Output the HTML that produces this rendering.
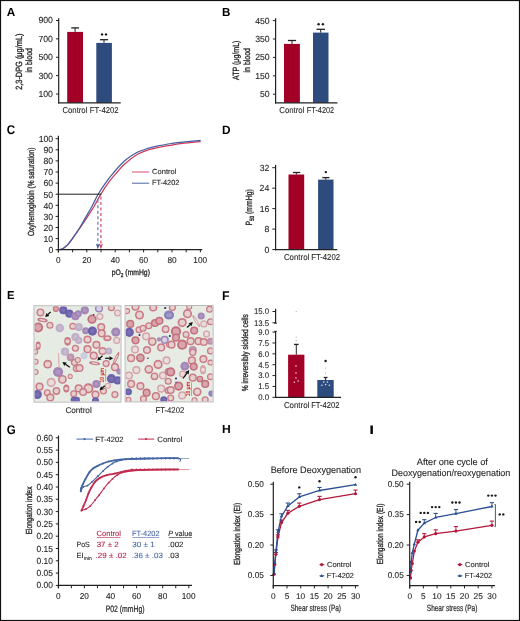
<!DOCTYPE html>
<html><head><meta charset="utf-8"><style>
html,body{margin:0;padding:0;background:#fff;}
body{width:520px;height:621px;overflow:hidden;}
svg{display:block;will-change:transform;text-rendering:geometricPrecision;font-family:"Liberation Sans", sans-serif;}
</style></head><body>
<svg width="520" height="621" viewBox="0 0 520 621">
<rect x="0" y="0" width="520" height="621" fill="#fff"/>
<text x="6.72" y="15.90" font-size="11.77" font-weight="bold" fill="#000" textLength="8.49" lengthAdjust="spacingAndGlyphs">A</text>
<line x1="56.00" y1="20.50" x2="58.70" y2="20.50" stroke="#222" stroke-width="1.0"/>
<text x="38.40" y="23.40" font-size="8.8" fill="#262626" stroke="#262626" stroke-width="0.1" textLength="14.54" lengthAdjust="spacingAndGlyphs">900</text>
<line x1="56.00" y1="38.88" x2="58.70" y2="38.88" stroke="#222" stroke-width="1.0"/>
<text x="38.40" y="41.77" font-size="8.8" fill="#262626" stroke="#262626" stroke-width="0.1" textLength="14.54" lengthAdjust="spacingAndGlyphs">700</text>
<line x1="56.00" y1="57.25" x2="58.70" y2="57.25" stroke="#222" stroke-width="1.0"/>
<text x="38.40" y="60.15" font-size="8.8" fill="#262626" stroke="#262626" stroke-width="0.1" textLength="14.54" lengthAdjust="spacingAndGlyphs">500</text>
<line x1="56.00" y1="75.62" x2="58.70" y2="75.62" stroke="#222" stroke-width="1.0"/>
<text x="38.40" y="78.53" font-size="8.8" fill="#262626" stroke="#262626" stroke-width="0.1" textLength="14.54" lengthAdjust="spacingAndGlyphs">300</text>
<line x1="56.00" y1="94.00" x2="58.70" y2="94.00" stroke="#222" stroke-width="1.0"/>
<text x="38.40" y="96.90" font-size="8.8" fill="#262626" stroke="#262626" stroke-width="0.1" textLength="14.54" lengthAdjust="spacingAndGlyphs">100</text>
<rect x="67.20" y="31.90" width="15.80" height="70.90" fill="#a30028"/>
<line x1="75.10" y1="31.90" x2="75.10" y2="27.90" stroke="#222" stroke-width="1.0"/>
<line x1="71.25" y1="27.90" x2="79.00" y2="27.90" stroke="#222" stroke-width="1.3"/>
<rect x="96.30" y="42.90" width="15.60" height="59.90" fill="#2e4b7e"/>
<line x1="104.00" y1="42.90" x2="104.00" y2="39.70" stroke="#222" stroke-width="1.0"/>
<line x1="100.00" y1="39.70" x2="108.10" y2="39.70" stroke="#222" stroke-width="1.3"/>
<circle cx="102.10" cy="34.40" r="1.2" fill="#1a1a1a"/>
<circle cx="106.00" cy="34.40" r="1.2" fill="#1a1a1a"/>
<line x1="58.70" y1="18.30" x2="58.70" y2="103.40" stroke="#222" stroke-width="1.2"/>
<line x1="58.10" y1="102.80" x2="120.70" y2="102.80" stroke="#222" stroke-width="1.2"/>
<text x="62.41" y="113.10" font-size="8.6" fill="#262626" stroke="#262626" stroke-width="0.1" textLength="25.00" lengthAdjust="spacingAndGlyphs">Control</text>
<text x="89.87" y="113.10" font-size="8.6" fill="#262626" stroke="#262626" stroke-width="0.1" textLength="28.62" lengthAdjust="spacingAndGlyphs">FT-4202</text>
<text transform="translate(21.50,89.50) rotate(-90)" x="-0.37" y="0" font-size="9.0" fill="#262626" stroke="#262626" stroke-width="0.32" textLength="56.33" lengthAdjust="spacingAndGlyphs">2,3-DPG (μg/mL)</text>
<text transform="translate(32.30,72.00) rotate(-90)" x="-0.46" y="0" font-size="9.0" fill="#262626" stroke="#262626" stroke-width="0.32" textLength="24.41" lengthAdjust="spacingAndGlyphs">in blood</text>
<text x="222.03" y="15.80" font-size="11.63" font-weight="bold" fill="#000" textLength="8.39" lengthAdjust="spacingAndGlyphs">B</text>
<line x1="272.90" y1="20.60" x2="275.60" y2="20.60" stroke="#222" stroke-width="1.0"/>
<text x="255.20" y="23.50" font-size="8.8" fill="#262626" stroke="#262626" stroke-width="0.1" textLength="14.54" lengthAdjust="spacingAndGlyphs">450</text>
<line x1="272.90" y1="39.01" x2="275.60" y2="39.01" stroke="#222" stroke-width="1.0"/>
<text x="255.20" y="41.91" font-size="8.8" fill="#262626" stroke="#262626" stroke-width="0.1" textLength="14.54" lengthAdjust="spacingAndGlyphs">350</text>
<line x1="272.90" y1="57.42" x2="275.60" y2="57.42" stroke="#222" stroke-width="1.0"/>
<text x="255.20" y="60.32" font-size="8.8" fill="#262626" stroke="#262626" stroke-width="0.1" textLength="14.54" lengthAdjust="spacingAndGlyphs">250</text>
<line x1="272.90" y1="75.83" x2="275.60" y2="75.83" stroke="#222" stroke-width="1.0"/>
<text x="255.20" y="78.73" font-size="8.8" fill="#262626" stroke="#262626" stroke-width="0.1" textLength="14.54" lengthAdjust="spacingAndGlyphs">150</text>
<line x1="272.90" y1="94.24" x2="275.60" y2="94.24" stroke="#222" stroke-width="1.0"/>
<text x="260.04" y="97.14" font-size="8.8" fill="#262626" stroke="#262626" stroke-width="0.1" textLength="9.69" lengthAdjust="spacingAndGlyphs">50</text>
<rect x="284.00" y="43.90" width="15.90" height="58.90" fill="#a30028"/>
<line x1="292.00" y1="43.90" x2="292.00" y2="40.50" stroke="#222" stroke-width="1.0"/>
<line x1="287.90" y1="40.50" x2="296.10" y2="40.50" stroke="#222" stroke-width="1.3"/>
<rect x="313.00" y="32.60" width="15.50" height="70.20" fill="#2e4b7e"/>
<line x1="320.70" y1="32.60" x2="320.70" y2="29.30" stroke="#222" stroke-width="1.0"/>
<line x1="316.50" y1="29.30" x2="325.00" y2="29.30" stroke="#222" stroke-width="1.3"/>
<circle cx="318.60" cy="24.30" r="1.2" fill="#1a1a1a"/>
<circle cx="322.90" cy="24.30" r="1.2" fill="#1a1a1a"/>
<line x1="275.60" y1="18.30" x2="275.60" y2="103.40" stroke="#222" stroke-width="1.2"/>
<line x1="275.00" y1="102.80" x2="337.50" y2="102.80" stroke="#222" stroke-width="1.2"/>
<text x="279.31" y="112.90" font-size="8.6" fill="#262626" stroke="#262626" stroke-width="0.1" textLength="25.11" lengthAdjust="spacingAndGlyphs">Control</text>
<text x="306.80" y="112.90" font-size="8.6" fill="#262626" stroke="#262626" stroke-width="0.1" textLength="27.37" lengthAdjust="spacingAndGlyphs">FT-4202</text>
<text transform="translate(239.20,80.00) rotate(-90)" x="-0.01" y="0" font-size="9.0" fill="#262626" stroke="#262626" stroke-width="0.32" textLength="39.45" lengthAdjust="spacingAndGlyphs">ATP (μg/mL)</text>
<text transform="translate(249.80,72.00) rotate(-90)" x="-0.46" y="0" font-size="9.0" fill="#262626" stroke="#262626" stroke-width="0.32" textLength="24.41" lengthAdjust="spacingAndGlyphs">in blood</text>
<text x="6.82" y="134.17" font-size="12.71" font-weight="bold" fill="#000" textLength="8.39" lengthAdjust="spacingAndGlyphs">C</text>
<line x1="55.60" y1="249.70" x2="58.40" y2="249.70" stroke="#222" stroke-width="1.0"/>
<text x="48.39" y="253.00" font-size="8.8" fill="#262626" stroke="#262626" stroke-width="0.1" textLength="4.85" lengthAdjust="spacingAndGlyphs">0</text>
<line x1="55.60" y1="238.60" x2="58.40" y2="238.60" stroke="#222" stroke-width="1.0"/>
<text x="43.54" y="241.90" font-size="8.8" fill="#262626" stroke="#262626" stroke-width="0.1" textLength="9.69" lengthAdjust="spacingAndGlyphs">10</text>
<line x1="55.60" y1="227.50" x2="58.40" y2="227.50" stroke="#222" stroke-width="1.0"/>
<text x="43.54" y="230.80" font-size="8.8" fill="#262626" stroke="#262626" stroke-width="0.1" textLength="9.69" lengthAdjust="spacingAndGlyphs">20</text>
<line x1="55.60" y1="216.40" x2="58.40" y2="216.40" stroke="#222" stroke-width="1.0"/>
<text x="43.54" y="219.70" font-size="8.8" fill="#262626" stroke="#262626" stroke-width="0.1" textLength="9.69" lengthAdjust="spacingAndGlyphs">30</text>
<line x1="55.60" y1="205.30" x2="58.40" y2="205.30" stroke="#222" stroke-width="1.0"/>
<text x="43.54" y="208.60" font-size="8.8" fill="#262626" stroke="#262626" stroke-width="0.1" textLength="9.69" lengthAdjust="spacingAndGlyphs">40</text>
<line x1="55.60" y1="194.20" x2="58.40" y2="194.20" stroke="#222" stroke-width="1.0"/>
<text x="43.54" y="197.50" font-size="8.8" fill="#262626" stroke="#262626" stroke-width="0.1" textLength="9.69" lengthAdjust="spacingAndGlyphs">50</text>
<line x1="55.60" y1="183.10" x2="58.40" y2="183.10" stroke="#222" stroke-width="1.0"/>
<text x="43.54" y="186.40" font-size="8.8" fill="#262626" stroke="#262626" stroke-width="0.1" textLength="9.69" lengthAdjust="spacingAndGlyphs">60</text>
<line x1="55.60" y1="172.00" x2="58.40" y2="172.00" stroke="#222" stroke-width="1.0"/>
<text x="43.54" y="175.30" font-size="8.8" fill="#262626" stroke="#262626" stroke-width="0.1" textLength="9.69" lengthAdjust="spacingAndGlyphs">70</text>
<line x1="55.60" y1="160.90" x2="58.40" y2="160.90" stroke="#222" stroke-width="1.0"/>
<text x="43.54" y="164.20" font-size="8.8" fill="#262626" stroke="#262626" stroke-width="0.1" textLength="9.69" lengthAdjust="spacingAndGlyphs">80</text>
<line x1="55.60" y1="149.80" x2="58.40" y2="149.80" stroke="#222" stroke-width="1.0"/>
<text x="43.54" y="153.10" font-size="8.8" fill="#262626" stroke="#262626" stroke-width="0.1" textLength="9.69" lengthAdjust="spacingAndGlyphs">90</text>
<line x1="55.60" y1="138.70" x2="58.40" y2="138.70" stroke="#222" stroke-width="1.0"/>
<text x="38.70" y="142.00" font-size="8.8" fill="#262626" stroke="#262626" stroke-width="0.1" textLength="14.54" lengthAdjust="spacingAndGlyphs">100</text>
<line x1="58.40" y1="249.70" x2="58.40" y2="252.30" stroke="#222" stroke-width="1.0"/>
<line x1="72.60" y1="249.70" x2="72.60" y2="252.30" stroke="#222" stroke-width="1.0"/>
<line x1="86.80" y1="249.70" x2="86.80" y2="252.30" stroke="#222" stroke-width="1.0"/>
<line x1="101.00" y1="249.70" x2="101.00" y2="252.30" stroke="#222" stroke-width="1.0"/>
<line x1="115.20" y1="249.70" x2="115.20" y2="252.30" stroke="#222" stroke-width="1.0"/>
<line x1="129.40" y1="249.70" x2="129.40" y2="252.30" stroke="#222" stroke-width="1.0"/>
<line x1="143.60" y1="249.70" x2="143.60" y2="252.30" stroke="#222" stroke-width="1.0"/>
<line x1="157.80" y1="249.70" x2="157.80" y2="252.30" stroke="#222" stroke-width="1.0"/>
<line x1="172.00" y1="249.70" x2="172.00" y2="252.30" stroke="#222" stroke-width="1.0"/>
<line x1="186.20" y1="249.70" x2="186.20" y2="252.30" stroke="#222" stroke-width="1.0"/>
<line x1="200.40" y1="249.70" x2="200.40" y2="252.30" stroke="#222" stroke-width="1.0"/>
<text x="56.10" y="262.90" font-size="8.6" fill="#262626" stroke="#262626" stroke-width="0.1" textLength="4.59" lengthAdjust="spacingAndGlyphs">0</text>
<text x="82.16" y="262.90" font-size="8.6" fill="#262626" stroke="#262626" stroke-width="0.1" textLength="9.18" lengthAdjust="spacingAndGlyphs">20</text>
<text x="110.68" y="262.90" font-size="8.6" fill="#262626" stroke="#262626" stroke-width="0.1" textLength="9.18" lengthAdjust="spacingAndGlyphs">40</text>
<text x="138.96" y="262.90" font-size="8.6" fill="#262626" stroke="#262626" stroke-width="0.1" textLength="9.18" lengthAdjust="spacingAndGlyphs">60</text>
<text x="167.39" y="262.90" font-size="8.6" fill="#262626" stroke="#262626" stroke-width="0.1" textLength="9.18" lengthAdjust="spacingAndGlyphs">80</text>
<text x="193.36" y="262.90" font-size="8.6" fill="#262626" stroke="#262626" stroke-width="0.1" textLength="13.77" lengthAdjust="spacingAndGlyphs">100</text>
<path d="M59.54,249.70 C60.06,249.53 61.67,249.22 62.66,248.70 C63.65,248.18 64.55,247.39 65.50,246.59 C66.45,245.80 67.24,245.19 68.34,243.93 C69.44,242.67 70.92,240.63 72.10,239.04 C73.29,237.45 74.15,236.19 75.44,234.38 C76.73,232.57 77.88,231.05 79.84,228.17 C81.81,225.28 84.81,220.77 87.23,217.07 C89.64,213.37 92.10,209.70 94.33,205.97 C96.55,202.23 98.28,198.45 100.57,194.64 C102.87,190.83 105.47,186.69 108.10,183.10 C110.73,179.51 113.57,176.29 116.34,173.11 C119.10,169.93 121.38,167.02 124.71,164.01 C128.05,160.99 132.50,157.33 136.36,155.02 C140.22,152.70 144.03,151.43 147.86,150.13 C151.69,148.84 155.34,148.10 159.36,147.25 C163.39,146.40 168.17,145.66 172.00,145.03 C175.83,144.40 177.59,144.05 182.37,143.47 C187.15,142.90 197.63,141.90 200.68,141.59" fill="none" stroke="#d03a5c" stroke-width="1.25"/>
<path d="M59.54,249.70 C60.06,249.55 61.67,249.29 62.66,248.81 C63.65,248.33 64.55,247.59 65.50,246.81 C66.45,246.04 67.24,245.44 68.34,244.15 C69.44,242.85 70.92,240.71 72.10,239.04 C73.29,237.38 74.15,236.08 75.44,234.16 C76.73,232.24 78.09,230.39 79.84,227.50 C81.59,224.61 83.87,220.47 85.95,216.84 C88.03,213.22 90.35,209.43 92.34,205.74 C94.33,202.06 95.72,198.49 97.88,194.75 C100.03,191.02 102.70,186.93 105.26,183.32 C107.82,179.71 109.97,176.87 113.21,173.11 C116.45,169.35 120.86,164.17 124.71,160.79 C128.57,157.40 132.50,154.87 136.36,152.80 C140.22,150.72 144.03,149.56 147.86,148.36 C151.69,147.15 155.34,146.40 159.36,145.58 C163.39,144.77 168.17,144.05 172.00,143.47 C175.83,142.90 177.59,142.64 182.37,142.14 C187.15,141.64 197.63,140.75 200.68,140.48" fill="none" stroke="#41609f" stroke-width="1.25"/>
<line x1="58.40" y1="194.20" x2="101.30" y2="194.20" stroke="#222" stroke-width="1.0"/>
<line x1="97.90" y1="199.80" x2="97.90" y2="246.00" stroke="#6478b0" stroke-width="1.2" stroke-dasharray="3,2.5"/>
<line x1="100.90" y1="196.60" x2="100.90" y2="246.00" stroke="#d04a6a" stroke-width="1.2" stroke-dasharray="3,2.5"/>
<path d="M95.8,243.6 L97.9,245.0 L100.0,243.6 L97.9,249.3 Z" fill="#41609f"/>
<path d="M98.8,243.6 L100.9,245.0 L103.0,243.6 L100.9,249.3 Z" fill="#d03a5c"/>
<line x1="58.40" y1="135.80" x2="58.40" y2="252.40" stroke="#222" stroke-width="1.2"/>
<line x1="57.80" y1="249.70" x2="202.30" y2="249.70" stroke="#222" stroke-width="1.2"/>
<line x1="132.00" y1="172.00" x2="149.20" y2="172.00" stroke="#d4506e" stroke-width="1.0"/>
<line x1="132.00" y1="183.20" x2="149.20" y2="183.20" stroke="#4a64a4" stroke-width="1.0"/>
<text x="152.12" y="174.10" font-size="7.4" fill="#262626" stroke="#262626" stroke-width="0.1" textLength="24.38" lengthAdjust="spacingAndGlyphs">Control</text>
<text x="151.90" y="185.30" font-size="7.4" fill="#262626" stroke="#262626" stroke-width="0.1" textLength="27.47" lengthAdjust="spacingAndGlyphs">FT-4202</text>
<text x="111.78" y="275.00" font-size="8.0" fill="#262626" stroke="#262626" stroke-width="0.3" textLength="38.13" lengthAdjust="spacingAndGlyphs">pO<tspan font-size="5.6" dy="2.2">2</tspan><tspan dy="-2.2"> (mmHg)</tspan></text>
<text transform="translate(34.20,235.80) rotate(-90)" x="-0.31" y="0" font-size="8.8" fill="#262626" stroke="#262626" stroke-width="0.32" textLength="88.52" lengthAdjust="spacingAndGlyphs">Oxyhemoglobin (% saturation)</text>
<text x="222.02" y="133.80" font-size="12.06" font-weight="bold" fill="#000" textLength="8.57" lengthAdjust="spacingAndGlyphs">D</text>
<line x1="272.30" y1="167.70" x2="275.60" y2="167.70" stroke="#222" stroke-width="1.0"/>
<text x="259.75" y="170.70" font-size="8.8" fill="#262626" stroke="#262626" stroke-width="0.1" textLength="9.69" lengthAdjust="spacingAndGlyphs">32</text>
<line x1="272.30" y1="188.17" x2="275.60" y2="188.17" stroke="#222" stroke-width="1.0"/>
<text x="259.56" y="191.17" font-size="8.8" fill="#262626" stroke="#262626" stroke-width="0.1" textLength="9.69" lengthAdjust="spacingAndGlyphs">24</text>
<line x1="272.30" y1="208.64" x2="275.60" y2="208.64" stroke="#222" stroke-width="1.0"/>
<text x="259.69" y="211.64" font-size="8.8" fill="#262626" stroke="#262626" stroke-width="0.1" textLength="9.69" lengthAdjust="spacingAndGlyphs">16</text>
<line x1="272.30" y1="229.11" x2="275.60" y2="229.11" stroke="#222" stroke-width="1.0"/>
<text x="264.53" y="232.11" font-size="8.8" fill="#262626" stroke="#262626" stroke-width="0.1" textLength="4.85" lengthAdjust="spacingAndGlyphs">8</text>
<line x1="272.30" y1="249.58" x2="275.60" y2="249.58" stroke="#222" stroke-width="1.0"/>
<text x="264.49" y="252.58" font-size="8.8" fill="#262626" stroke="#262626" stroke-width="0.1" textLength="4.85" lengthAdjust="spacingAndGlyphs">0</text>
<rect x="288.50" y="174.50" width="15.70" height="75.10" fill="#a30028"/>
<line x1="296.35" y1="174.50" x2="296.35" y2="172.50" stroke="#222" stroke-width="1.0"/>
<line x1="292.90" y1="172.50" x2="300.20" y2="172.50" stroke="#222" stroke-width="1.3"/>
<rect x="318.10" y="179.60" width="15.40" height="70.00" fill="#2e4b7e"/>
<line x1="325.80" y1="179.60" x2="325.80" y2="177.60" stroke="#222" stroke-width="1.0"/>
<line x1="322.30" y1="177.60" x2="329.40" y2="177.60" stroke="#222" stroke-width="1.3"/>
<circle cx="325.80" cy="172.10" r="1.2" fill="#1a1a1a"/>
<line x1="275.60" y1="165.10" x2="275.60" y2="250.20" stroke="#222" stroke-width="1.2"/>
<line x1="275.00" y1="249.60" x2="337.30" y2="249.60" stroke="#222" stroke-width="1.2"/>
<text x="283.91" y="259.80" font-size="8.6" fill="#262626" stroke="#262626" stroke-width="0.1" textLength="25.42" lengthAdjust="spacingAndGlyphs">Control</text>
<text x="311.16" y="259.80" font-size="8.6" fill="#262626" stroke="#262626" stroke-width="0.1" textLength="28.93" lengthAdjust="spacingAndGlyphs">FT-4202</text>
<text transform="translate(252.40,225.10) rotate(-90)" x="-0.53" y="0" font-size="9.0" fill="#262626" stroke="#262626" stroke-width="0.32" textLength="36.42" lengthAdjust="spacingAndGlyphs">P<tspan font-size="6.2" dy="1.6">50</tspan><tspan dy="-1.6"> (mmHg)</tspan></text>
<text x="7.06" y="298.90" font-size="11.48" font-weight="bold" fill="#000" textLength="7.48" lengthAdjust="spacingAndGlyphs">E</text>
<filter id="soft" x="-5%" y="-5%" width="110%" height="110%"><feGaussianBlur stdDeviation="0.55"/></filter>
<clipPath id="cl1"><rect x="34.5" y="306.3" width="86.0" height="95.30000000000001"/></clipPath>
<g clip-path="url(#cl1)"><g filter="url(#soft)">
<rect x="32.50" y="304.30" width="90.00" height="99.30" fill="#e6ece3"/>
<circle cx="40.4" cy="312.4" r="3.9779999999999998" fill="#c97a86"/>
<circle cx="40.4" cy="312.4" r="2.55" fill="#e6d0ce"/>
<ellipse cx="42.5" cy="320.1" rx="5.304" ry="2.04" fill="#c97a86" transform="rotate(10 42.5 320.1)"/>
<ellipse cx="42.5" cy="320.1" rx="3.18" ry="0.92" fill="#e6d0ce" transform="rotate(10 42.5 320.1)"/>
<circle cx="38.2" cy="327.5" r="4.896" fill="#c26e7b"/>
<circle cx="38.2" cy="327.5" r="3.13" fill="#d8a6aa"/>
<circle cx="49.9" cy="325.3" r="3.5700000000000003" fill="#c97a86"/>
<circle cx="49.9" cy="325.3" r="2.28" fill="#e6d0ce"/>
<circle cx="59.8" cy="328" r="4.284000000000001" fill="#bfaec8"/>
<circle cx="59.8" cy="328" r="2.14" fill="#cec2d4" opacity="0.6"/>
<circle cx="55.9" cy="308.9" r="3.06" fill="#c26e7b"/>
<circle cx="55.9" cy="308.9" r="1.96" fill="#d8a6aa"/>
<circle cx="63.3" cy="310.2" r="4.08" fill="#6c62ac"/>
<circle cx="63.3" cy="310.2" r="2.04" fill="#8078b8" opacity="0.6"/>
<circle cx="69.3" cy="313.7" r="4.08" fill="#6c62ac"/>
<circle cx="69.3" cy="313.7" r="2.04" fill="#8078b8" opacity="0.6"/>
<circle cx="75.4" cy="316.2" r="4.08" fill="#a286b6"/>
<circle cx="75.4" cy="316.2" r="2.04" fill="#b8a0c6" opacity="0.6"/>
<circle cx="72.8" cy="326.2" r="3.5700000000000003" fill="#c97a86"/>
<circle cx="72.8" cy="326.2" r="2.28" fill="#e6d0ce"/>
<circle cx="75.4" cy="337" r="4.08" fill="#bfaec8"/>
<circle cx="75.4" cy="337" r="2.04" fill="#cec2d4" opacity="0.6"/>
<ellipse cx="67.6" cy="341.3" rx="3.3659999999999997" ry="4.386" fill="#c97a86" transform="rotate(0 67.6 341.3)"/>
<ellipse cx="67.6" cy="341.3" rx="2.02" ry="1.97" fill="#e6d0ce" transform="rotate(0 67.6 341.3)"/>
<ellipse cx="38.2" cy="345.7" rx="2.55" ry="4.08" fill="#c97a86" transform="rotate(0 38.2 345.7)"/>
<ellipse cx="38.2" cy="345.7" rx="1.53" ry="1.84" fill="#e6d0ce" transform="rotate(0 38.2 345.7)"/>
<circle cx="75.4" cy="348.3" r="3.5700000000000003" fill="#c97a86"/>
<circle cx="75.4" cy="348.3" r="2.28" fill="#e6d0ce"/>
<circle cx="65" cy="351.7" r="4.08" fill="#bfaec8"/>
<circle cx="65" cy="351.7" r="2.04" fill="#cec2d4" opacity="0.6"/>
<circle cx="35.2" cy="351.7" r="3.06" fill="#c97a86"/>
<circle cx="35.2" cy="351.7" r="1.96" fill="#e6d0ce"/>
<circle cx="84.8" cy="310.3" r="4.08" fill="#a286b6"/>
<circle cx="84.8" cy="310.3" r="2.04" fill="#b8a0c6" opacity="0.6"/>
<circle cx="99" cy="308.5" r="4.08" fill="#9a86ba"/>
<circle cx="99" cy="308.5" r="2.61" fill="#d8d0e0"/>
<circle cx="99.9" cy="316.5" r="3.5700000000000003" fill="#d4a2a9"/>
<circle cx="99.9" cy="316.5" r="2.28" fill="#eadcda"/>
<circle cx="92" cy="319.2" r="4.59" fill="#c26e7b"/>
<circle cx="92" cy="319.2" r="2.94" fill="#d8a6aa"/>
<circle cx="111.4" cy="307.7" r="3.5700000000000003" fill="#c97a86"/>
<circle cx="111.4" cy="307.7" r="2.28" fill="#e6d0ce"/>
<circle cx="117.6" cy="313" r="3.5700000000000003" fill="#d4a2a9"/>
<circle cx="117.6" cy="313" r="2.28" fill="#eadcda"/>
<circle cx="78.2" cy="313.8" r="3.5700000000000003" fill="#a286b6"/>
<circle cx="78.2" cy="313.8" r="1.79" fill="#b8a0c6" opacity="0.6"/>
<circle cx="78.7" cy="327.1" r="4.08" fill="#bfaec8"/>
<circle cx="78.7" cy="327.1" r="2.04" fill="#cec2d4" opacity="0.6"/>
<circle cx="85.7" cy="330.7" r="3.5700000000000003" fill="#a286b6"/>
<circle cx="85.7" cy="330.7" r="1.79" fill="#b8a0c6" opacity="0.6"/>
<circle cx="92.4" cy="331.1" r="4.59" fill="#6c62ac"/>
<circle cx="92.4" cy="331.1" r="2.29" fill="#8078b8" opacity="0.6"/>
<circle cx="101.2" cy="327.1" r="4.08" fill="#c97a86"/>
<circle cx="101.2" cy="327.1" r="2.61" fill="#e6d0ce"/>
<circle cx="101.7" cy="333.3" r="4.08" fill="#c97a86"/>
<circle cx="101.7" cy="333.3" r="2.61" fill="#e6d0ce"/>
<circle cx="115.8" cy="332" r="4.59" fill="#a286b6"/>
<circle cx="115.8" cy="332" r="2.29" fill="#b8a0c6" opacity="0.6"/>
<ellipse cx="107.4" cy="338.2" rx="4.08" ry="3.06" fill="#c97a86" transform="rotate(0 107.4 338.2)"/>
<ellipse cx="107.4" cy="338.2" rx="2.45" ry="1.38" fill="#e6d0ce" transform="rotate(0 107.4 338.2)"/>
<circle cx="116.7" cy="340.4" r="3.5700000000000003" fill="#d4a2a9"/>
<circle cx="116.7" cy="340.4" r="2.28" fill="#eadcda"/>
<circle cx="87.5" cy="339.5" r="4.08" fill="#c97a86"/>
<circle cx="87.5" cy="339.5" r="2.61" fill="#e6d0ce"/>
<circle cx="96.4" cy="344.8" r="4.08" fill="#c97a86"/>
<circle cx="96.4" cy="344.8" r="2.61" fill="#e6d0ce"/>
<circle cx="87.5" cy="349.2" r="4.08" fill="#c97a86"/>
<circle cx="87.5" cy="349.2" r="2.61" fill="#e6d0ce"/>
<circle cx="102.5" cy="351" r="4.08" fill="#c97a86"/>
<circle cx="102.5" cy="351" r="2.61" fill="#e6d0ce"/>
<circle cx="78.7" cy="340.4" r="3.5700000000000003" fill="#bfaec8"/>
<circle cx="78.7" cy="340.4" r="1.79" fill="#cec2d4" opacity="0.6"/>
<circle cx="108.7" cy="351" r="3.5700000000000003" fill="#bfaec8"/>
<circle cx="108.7" cy="351" r="1.79" fill="#cec2d4" opacity="0.6"/>
<circle cx="47.7" cy="364.2" r="4.386" fill="#c97a86"/>
<circle cx="47.7" cy="364.2" r="2.81" fill="#e6d0ce"/>
<circle cx="58.1" cy="372" r="5.1" fill="#a286b6"/>
<circle cx="58.1" cy="372" r="2.55" fill="#b8a0c6" opacity="0.6"/>
<circle cx="62.4" cy="379.4" r="4.386" fill="#c97a86"/>
<circle cx="62.4" cy="379.4" r="2.81" fill="#e6d0ce"/>
<circle cx="51.2" cy="382.4" r="4.59" fill="#d4a2a9"/>
<circle cx="51.2" cy="382.4" r="2.94" fill="#eadcda"/>
<circle cx="70.6" cy="357.3" r="3.876" fill="#bd90ac"/>
<circle cx="70.6" cy="357.3" r="1.94" fill="#ceaabf" opacity="0.6"/>
<circle cx="74.5" cy="362.5" r="3.5700000000000003" fill="#c97a86"/>
<circle cx="74.5" cy="362.5" r="2.28" fill="#e6d0ce"/>
<circle cx="76.3" cy="368.6" r="3.5700000000000003" fill="#c97a86"/>
<circle cx="76.3" cy="368.6" r="2.28" fill="#e6d0ce"/>
<circle cx="70.2" cy="376.4" r="2.55" fill="#c97a86"/>
<circle cx="70.2" cy="376.4" r="1.63" fill="#e6d0ce"/>
<ellipse cx="66.3" cy="388.5" rx="3.06" ry="4.08" fill="#c97a86" transform="rotate(0 66.3 388.5)"/>
<ellipse cx="66.3" cy="388.5" rx="1.84" ry="1.84" fill="#e6d0ce" transform="rotate(0 66.3 388.5)"/>
<circle cx="56.4" cy="391" r="3.876" fill="#c97a86"/>
<circle cx="56.4" cy="391" r="2.48" fill="#e6d0ce"/>
<circle cx="47.3" cy="392.8" r="3.5700000000000003" fill="#c97a86"/>
<circle cx="47.3" cy="392.8" r="2.28" fill="#e6d0ce"/>
<circle cx="50.3" cy="397.5" r="4.08" fill="#c97a86"/>
<circle cx="50.3" cy="397.5" r="2.61" fill="#e6d0ce"/>
<circle cx="39.5" cy="386.7" r="4.08" fill="#c97a86"/>
<circle cx="39.5" cy="386.7" r="2.61" fill="#e6d0ce"/>
<circle cx="37.3" cy="394.5" r="4.59" fill="#6c62ac"/>
<circle cx="37.3" cy="394.5" r="2.29" fill="#8078b8" opacity="0.6"/>
<circle cx="73.7" cy="393.7" r="3.5700000000000003" fill="#c97a86"/>
<circle cx="73.7" cy="393.7" r="2.28" fill="#e6d0ce"/>
<circle cx="73.7" cy="399.7" r="3.06" fill="#6c62ac"/>
<circle cx="73.7" cy="399.7" r="1.53" fill="#8078b8" opacity="0.6"/>
<circle cx="35.6" cy="372" r="3.06" fill="#c97a86"/>
<circle cx="35.6" cy="372" r="1.96" fill="#e6d0ce"/>
<circle cx="35.6" cy="361.7" r="3.06" fill="#c97a86"/>
<circle cx="35.6" cy="361.7" r="1.96" fill="#e6d0ce"/>
<circle cx="93.7" cy="355.7" r="4.08" fill="#c97a86"/>
<circle cx="93.7" cy="355.7" r="2.61" fill="#e6d0ce"/>
<circle cx="84" cy="355.7" r="3.5700000000000003" fill="#c6cce0"/>
<circle cx="84" cy="355.7" r="1.79" fill="#d4d8e6" opacity="0.6"/>
<circle cx="77.8" cy="360" r="3.06" fill="#c97a86"/>
<circle cx="77.8" cy="360" r="1.96" fill="#e6d0ce"/>
<circle cx="79.5" cy="368" r="4.08" fill="#c97a86"/>
<circle cx="79.5" cy="368" r="2.61" fill="#e6d0ce"/>
<ellipse cx="94.6" cy="363.2" rx="5.61" ry="1.836" fill="#c97a86" transform="rotate(8 94.6 363.2)"/>
<ellipse cx="94.6" cy="363.2" rx="3.37" ry="0.83" fill="#e6d0ce" transform="rotate(8 94.6 363.2)"/>
<circle cx="106.1" cy="363.6" r="3.5700000000000003" fill="#c97a86"/>
<circle cx="106.1" cy="363.6" r="2.28" fill="#e6d0ce"/>
<circle cx="115" cy="367.2" r="4.08" fill="#c97a86"/>
<circle cx="115" cy="367.2" r="2.61" fill="#e6d0ce"/>
<ellipse cx="116" cy="358.5" rx="7.140000000000001" ry="1.53" fill="#c97a86" transform="rotate(-65 116 358.5)"/>
<ellipse cx="116" cy="358.5" rx="4.28" ry="0.69" fill="#e6d0ce" transform="rotate(-65 116 358.5)"/>
<circle cx="119.4" cy="371.6" r="3.06" fill="#a286b6"/>
<circle cx="119.4" cy="371.6" r="1.53" fill="#b8a0c6" opacity="0.6"/>
<circle cx="111.4" cy="378.7" r="4.59" fill="#6c62ac"/>
<circle cx="111.4" cy="378.7" r="2.29" fill="#8078b8" opacity="0.6"/>
<circle cx="117.6" cy="380.4" r="4.08" fill="#6c62ac"/>
<circle cx="117.6" cy="380.4" r="2.04" fill="#8078b8" opacity="0.6"/>
<circle cx="96.4" cy="384" r="4.08" fill="#a286b6"/>
<circle cx="96.4" cy="384" r="2.04" fill="#b8a0c6" opacity="0.6"/>
<circle cx="88.4" cy="388.4" r="5.1" fill="#c97a86"/>
<circle cx="88.4" cy="388.4" r="3.26" fill="#e6d0ce"/>
<circle cx="78.7" cy="388.4" r="4.08" fill="#c97a86"/>
<circle cx="78.7" cy="388.4" r="2.61" fill="#e6d0ce"/>
<circle cx="83.1" cy="392" r="4.08" fill="#c97a86"/>
<circle cx="83.1" cy="392" r="2.61" fill="#e6d0ce"/>
<circle cx="103.4" cy="391" r="3.5700000000000003" fill="#c97a86"/>
<circle cx="103.4" cy="391" r="2.28" fill="#e6d0ce"/>
<circle cx="114.9" cy="394.6" r="3.5700000000000003" fill="#c97a86"/>
<circle cx="114.9" cy="394.6" r="2.28" fill="#e6d0ce"/>
<circle cx="95.5" cy="394.6" r="4.08" fill="#c97a86"/>
<circle cx="95.5" cy="394.6" r="2.61" fill="#e6d0ce"/>
<circle cx="95.5" cy="400.8" r="3.5700000000000003" fill="#6c62ac"/>
<circle cx="95.5" cy="400.8" r="1.79" fill="#8078b8" opacity="0.6"/>
<circle cx="76.9" cy="399.9" r="3.06" fill="#6c62ac"/>
<circle cx="76.9" cy="399.9" r="1.53" fill="#8078b8" opacity="0.6"/>
<circle cx="107.9" cy="385.7" r="3.06" fill="#d4a2a9"/>
<circle cx="107.9" cy="385.7" r="1.96" fill="#eadcda"/>
</g></g>
<rect x="34.0" y="305.8" width="87.0" height="96.30000000000001" fill="none" stroke="#b8b8b8" stroke-width="1"/>
<line x1="58.50" y1="353.00" x2="59.00" y2="367.70" stroke="#dcb4b4" stroke-width="1.3"/>
<circle cx="93.70" cy="314.70" r="0.8" fill="#2a2070"/>
<line x1="50.70" y1="311.90" x2="47.88" y2="314.51" stroke="#111" stroke-width="1.25"/>
<path d="M45.10,317.10 L46.46,312.98 L49.31,316.05 Z" fill="#111"/>
<line x1="69.80" y1="367.30" x2="65.51" y2="364.28" stroke="#111" stroke-width="1.25"/>
<path d="M62.40,362.10 L66.72,362.57 L64.30,366.00 Z" fill="#111"/>
<line x1="102.50" y1="355.70" x2="100.02" y2="357.95" stroke="#111" stroke-width="1.25"/>
<path d="M97.20,360.50 L98.61,356.39 L101.43,359.51 Z" fill="#111"/>
<line x1="105.20" y1="358.30" x2="109.40" y2="358.30" stroke="#111" stroke-width="1.25"/>
<path d="M113.20,358.30 L109.40,360.40 L109.40,356.20 Z" fill="#111"/>
<line x1="104.80" y1="385.70" x2="102.40" y2="387.74" stroke="#111" stroke-width="1.25"/>
<path d="M99.50,390.20 L101.04,386.14 L103.76,389.34 Z" fill="#111"/>
<text transform="translate(104.0,375.2) rotate(-90)" font-size="6.2" font-weight="bold" text-anchor="middle" fill="#d42a1a" textLength="14.5" lengthAdjust="spacingAndGlyphs">10 μm</text>
<line x1="105.60" y1="369.00" x2="105.60" y2="381.30" stroke="#e07040" stroke-width="0.7"/>
<clipPath id="cl2"><rect x="125.6" y="306.0" width="87.0" height="95.39999999999998"/></clipPath>
<g clip-path="url(#cl2)"><g filter="url(#soft)">
<rect x="123.60" y="304.00" width="91.00" height="99.40" fill="#e6ece3"/>
<circle cx="135.5" cy="306.7" r="4.08" fill="#c97a86"/>
<circle cx="135.5" cy="306.7" r="2.61" fill="#e6d0ce"/>
<circle cx="153.2" cy="307.5" r="4.08" fill="#c97a86"/>
<circle cx="153.2" cy="307.5" r="2.61" fill="#e6d0ce"/>
<circle cx="127.1" cy="311.1" r="3.06" fill="#c97a86"/>
<circle cx="127.1" cy="311.1" r="1.96" fill="#e6d0ce"/>
<circle cx="139.5" cy="315" r="4.59" fill="#c97a86"/>
<circle cx="139.5" cy="315" r="2.94" fill="#e6d0ce"/>
<ellipse cx="169" cy="315" rx="5.1" ry="4.59" fill="#8a80bc" transform="rotate(0 169 315)"/>
<ellipse cx="169" cy="315" rx="3.06" ry="2.07" fill="#a098c8" transform="rotate(0 169 315)"/>
<circle cx="130.2" cy="323.9" r="4.08" fill="#c26e7b"/>
<circle cx="130.2" cy="323.9" r="2.61" fill="#d8a6aa"/>
<circle cx="129.3" cy="332.3" r="4.59" fill="#6c62ac"/>
<circle cx="129.3" cy="332.3" r="2.29" fill="#8078b8" opacity="0.6"/>
<circle cx="139" cy="329.7" r="3.5700000000000003" fill="#c97a86"/>
<circle cx="139" cy="329.7" r="2.28" fill="#e6d0ce"/>
<circle cx="143" cy="328.3" r="3.5700000000000003" fill="#c97a86"/>
<circle cx="143" cy="328.3" r="2.28" fill="#e6d0ce"/>
<circle cx="148.8" cy="325.7" r="3.5700000000000003" fill="#c97a86"/>
<circle cx="148.8" cy="325.7" r="2.28" fill="#e6d0ce"/>
<circle cx="155" cy="323" r="4.08" fill="#c26e7b"/>
<circle cx="155" cy="323" r="2.61" fill="#d8a6aa"/>
<circle cx="159.4" cy="320.8" r="4.08" fill="#c26e7b"/>
<circle cx="159.4" cy="320.8" r="2.61" fill="#d8a6aa"/>
<circle cx="165.6" cy="329.2" r="3.876" fill="#c97a86"/>
<circle cx="165.6" cy="329.2" r="2.48" fill="#e6d0ce"/>
<circle cx="146.1" cy="336.3" r="4.08" fill="#d4a2a9"/>
<circle cx="146.1" cy="336.3" r="2.61" fill="#eadcda"/>
<circle cx="135.5" cy="340.3" r="4.08" fill="#c26e7b"/>
<circle cx="135.5" cy="340.3" r="2.61" fill="#d8a6aa"/>
<circle cx="152.3" cy="341.6" r="4.386" fill="#c97a86"/>
<circle cx="152.3" cy="341.6" r="2.81" fill="#e6d0ce"/>
<circle cx="159" cy="339.4" r="2.04" fill="#a286b6"/>
<circle cx="159" cy="339.4" r="1.02" fill="#b8a0c6" opacity="0.6"/>
<circle cx="164.7" cy="339.8" r="4.08" fill="#9a86ba"/>
<circle cx="164.7" cy="339.8" r="2.61" fill="#d8d0e0"/>
<circle cx="161.2" cy="347.4" r="4.08" fill="#c97a86"/>
<circle cx="161.2" cy="347.4" r="2.61" fill="#e6d0ce"/>
<circle cx="135" cy="349.6" r="4.08" fill="#d4a2a9"/>
<circle cx="135" cy="349.6" r="2.61" fill="#eadcda"/>
<circle cx="147" cy="350" r="4.08" fill="#c97a86"/>
<circle cx="147" cy="350" r="2.61" fill="#e6d0ce"/>
<circle cx="169" cy="344.7" r="3.06" fill="#c97a86"/>
<circle cx="169" cy="344.7" r="1.96" fill="#e6d0ce"/>
<circle cx="172.4" cy="307.5" r="3.5700000000000003" fill="#c97a86"/>
<circle cx="172.4" cy="307.5" r="2.28" fill="#e6d0ce"/>
<circle cx="189.2" cy="306.7" r="3.06" fill="#c97a86"/>
<circle cx="189.2" cy="306.7" r="1.96" fill="#e6d0ce"/>
<circle cx="187.5" cy="313.7" r="4.59" fill="#c97a86"/>
<circle cx="187.5" cy="313.7" r="2.94" fill="#e6d0ce"/>
<circle cx="201.2" cy="316" r="3.5700000000000003" fill="#a286b6"/>
<circle cx="201.2" cy="316" r="1.79" fill="#b8a0c6" opacity="0.6"/>
<circle cx="209.6" cy="309.3" r="3.5700000000000003" fill="#c97a86"/>
<circle cx="209.6" cy="309.3" r="2.28" fill="#e6d0ce"/>
<circle cx="182.2" cy="322.6" r="4.59" fill="#c97a86"/>
<circle cx="182.2" cy="322.6" r="2.94" fill="#e6d0ce"/>
<ellipse cx="196.3" cy="321.2" rx="7.140000000000001" ry="1.53" fill="#d4a2a9" transform="rotate(58 196.3 321.2)"/>
<ellipse cx="196.3" cy="321.2" rx="4.28" ry="0.69" fill="#eadcda" transform="rotate(58 196.3 321.2)"/>
<circle cx="203.8" cy="323.9" r="3.5700000000000003" fill="#d4a2a9"/>
<circle cx="203.8" cy="323.9" r="2.28" fill="#eadcda"/>
<circle cx="210.5" cy="321.7" r="3.5700000000000003" fill="#c97a86"/>
<circle cx="210.5" cy="321.7" r="2.28" fill="#e6d0ce"/>
<circle cx="176" cy="331.4" r="5.1" fill="#c26e7b"/>
<circle cx="176" cy="331.4" r="3.26" fill="#d8a6aa"/>
<circle cx="176" cy="337.6" r="4.08" fill="#c26e7b"/>
<circle cx="176" cy="337.6" r="2.61" fill="#d8a6aa"/>
<circle cx="186.1" cy="334.5" r="3.5700000000000003" fill="#c97a86"/>
<circle cx="186.1" cy="334.5" r="2.28" fill="#e6d0ce"/>
<circle cx="194.1" cy="330.5" r="4.08" fill="#c26e7b"/>
<circle cx="194.1" cy="330.5" r="2.61" fill="#d8a6aa"/>
<circle cx="206.5" cy="334.1" r="3.5700000000000003" fill="#d4a2a9"/>
<circle cx="206.5" cy="334.1" r="2.28" fill="#eadcda"/>
<circle cx="190.6" cy="341.2" r="4.08" fill="#c97a86"/>
<circle cx="190.6" cy="341.2" r="2.61" fill="#e6d0ce"/>
<circle cx="198.5" cy="341.2" r="4.08" fill="#c97a86"/>
<circle cx="198.5" cy="341.2" r="2.61" fill="#e6d0ce"/>
<circle cx="203.8" cy="342" r="4.08" fill="#c97a86"/>
<circle cx="203.8" cy="342" r="2.61" fill="#e6d0ce"/>
<circle cx="210.5" cy="341.2" r="3.5700000000000003" fill="#bd90ac"/>
<circle cx="210.5" cy="341.2" r="1.79" fill="#ceaabf" opacity="0.6"/>
<circle cx="182.2" cy="344.7" r="5.1" fill="#c26e7b"/>
<circle cx="182.2" cy="344.7" r="3.26" fill="#d8a6aa"/>
<circle cx="171.5" cy="344.7" r="4.08" fill="#c97a86"/>
<circle cx="171.5" cy="344.7" r="2.61" fill="#e6d0ce"/>
<circle cx="192.8" cy="350" r="4.08" fill="#bd90ac"/>
<circle cx="192.8" cy="350" r="2.04" fill="#ceaabf" opacity="0.6"/>
<circle cx="210.5" cy="350.9" r="3.5700000000000003" fill="#c97a86"/>
<circle cx="210.5" cy="350.9" r="2.28" fill="#e6d0ce"/>
<circle cx="131.1" cy="358.2" r="4.08" fill="#c97a86"/>
<circle cx="131.1" cy="358.2" r="2.61" fill="#e6d0ce"/>
<circle cx="140.4" cy="357.8" r="4.386" fill="#c26e7b"/>
<circle cx="140.4" cy="357.8" r="2.81" fill="#d8a6aa"/>
<circle cx="158.1" cy="364.4" r="4.59" fill="#c97a86"/>
<circle cx="158.1" cy="364.4" r="2.94" fill="#e6d0ce"/>
<circle cx="166.5" cy="360.4" r="4.08" fill="#d4a2a9"/>
<circle cx="166.5" cy="360.4" r="2.61" fill="#eadcda"/>
<circle cx="136.4" cy="370.1" r="4.08" fill="#d4a2a9"/>
<circle cx="136.4" cy="370.1" r="2.61" fill="#eadcda"/>
<circle cx="148.8" cy="369.3" r="4.386" fill="#c97a86"/>
<circle cx="148.8" cy="369.3" r="2.81" fill="#e6d0ce"/>
<circle cx="128.9" cy="375.5" r="4.08" fill="#d4a2a9"/>
<circle cx="128.9" cy="375.5" r="2.61" fill="#eadcda"/>
<circle cx="154.5" cy="376.3" r="3.876" fill="#c97a86"/>
<circle cx="154.5" cy="376.3" r="2.48" fill="#e6d0ce"/>
<circle cx="162.9" cy="375.5" r="4.08" fill="#d4a2a9"/>
<circle cx="162.9" cy="375.5" r="2.61" fill="#eadcda"/>
<circle cx="168.2" cy="371.5" r="3.5700000000000003" fill="#c97a86"/>
<circle cx="168.2" cy="371.5" r="2.28" fill="#e6d0ce"/>
<circle cx="168.2" cy="381.2" r="3.5700000000000003" fill="#c97a86"/>
<circle cx="168.2" cy="381.2" r="2.28" fill="#e6d0ce"/>
<circle cx="131.1" cy="383.9" r="4.08" fill="#c97a86"/>
<circle cx="131.1" cy="383.9" r="2.61" fill="#e6d0ce"/>
<circle cx="140.4" cy="386.1" r="4.08" fill="#c97a86"/>
<circle cx="140.4" cy="386.1" r="2.61" fill="#e6d0ce"/>
<circle cx="161.2" cy="388.7" r="4.08" fill="#d4a2a9"/>
<circle cx="161.2" cy="388.7" r="2.61" fill="#eadcda"/>
<circle cx="168.2" cy="390.5" r="3.5700000000000003" fill="#c97a86"/>
<circle cx="168.2" cy="390.5" r="2.28" fill="#e6d0ce"/>
<circle cx="128.4" cy="391.8" r="3.5700000000000003" fill="#6c62ac"/>
<circle cx="128.4" cy="391.8" r="1.79" fill="#8078b8" opacity="0.6"/>
<circle cx="146.6" cy="392.7" r="4.08" fill="#c26e7b"/>
<circle cx="146.6" cy="392.7" r="2.61" fill="#d8a6aa"/>
<circle cx="155.9" cy="396.2" r="4.08" fill="#c97a86"/>
<circle cx="155.9" cy="396.2" r="2.61" fill="#e6d0ce"/>
<circle cx="143.5" cy="398.9" r="3.5700000000000003" fill="#c97a86"/>
<circle cx="143.5" cy="398.9" r="2.28" fill="#e6d0ce"/>
<circle cx="163.8" cy="399.8" r="3.5700000000000003" fill="#6c62ac"/>
<circle cx="163.8" cy="399.8" r="1.79" fill="#8078b8" opacity="0.6"/>
<circle cx="128.4" cy="399.8" r="3.06" fill="#c97a86"/>
<circle cx="128.4" cy="399.8" r="1.96" fill="#e6d0ce"/>
<circle cx="192.8" cy="352.4" r="3.5700000000000003" fill="#c97a86"/>
<circle cx="192.8" cy="352.4" r="2.28" fill="#e6d0ce"/>
<circle cx="191.9" cy="360.4" r="4.08" fill="#c97a86"/>
<circle cx="191.9" cy="360.4" r="2.61" fill="#e6d0ce"/>
<circle cx="203.4" cy="359.1" r="4.08" fill="#c97a86"/>
<circle cx="203.4" cy="359.1" r="2.61" fill="#e6d0ce"/>
<circle cx="210.5" cy="362.6" r="3.06" fill="#c97a86"/>
<circle cx="210.5" cy="362.6" r="1.96" fill="#e6d0ce"/>
<circle cx="184.8" cy="366.2" r="4.386" fill="#a286b6"/>
<circle cx="184.8" cy="366.2" r="2.19" fill="#b8a0c6" opacity="0.6"/>
<circle cx="193.7" cy="366.6" r="4.08" fill="#c26e7b"/>
<circle cx="193.7" cy="366.6" r="2.61" fill="#d8a6aa"/>
<ellipse cx="203" cy="369.7" rx="3.06" ry="4.59" fill="#d4a2a9" transform="rotate(0 203 369.7)"/>
<ellipse cx="203" cy="369.7" rx="1.84" ry="2.07" fill="#eadcda" transform="rotate(0 203 369.7)"/>
<circle cx="170.7" cy="371.9" r="4.59" fill="#c26e7b"/>
<circle cx="170.7" cy="371.9" r="2.94" fill="#d8a6aa"/>
<circle cx="182.6" cy="374.1" r="3.5700000000000003" fill="#d4a2a9"/>
<circle cx="182.6" cy="374.1" r="2.28" fill="#eadcda"/>
<circle cx="192.8" cy="377.7" r="4.08" fill="#c97a86"/>
<circle cx="192.8" cy="377.7" r="2.61" fill="#e6d0ce"/>
<circle cx="199.9" cy="379" r="3.3659999999999997" fill="#c26e7b"/>
<circle cx="199.9" cy="379" r="2.15" fill="#d8a6aa"/>
<circle cx="210.5" cy="376.8" r="3.5700000000000003" fill="#c97a86"/>
<circle cx="210.5" cy="376.8" r="2.28" fill="#e6d0ce"/>
<circle cx="178.6" cy="386.1" r="4.59" fill="#c26e7b"/>
<circle cx="178.6" cy="386.1" r="2.94" fill="#d8a6aa"/>
<circle cx="205.2" cy="383.9" r="4.08" fill="#c26e7b"/>
<circle cx="205.2" cy="383.9" r="2.61" fill="#d8a6aa"/>
<circle cx="170.7" cy="390" r="4.08" fill="#c97a86"/>
<circle cx="170.7" cy="390" r="2.61" fill="#e6d0ce"/>
<circle cx="197.2" cy="391.8" r="4.386" fill="#c97a86"/>
<circle cx="197.2" cy="391.8" r="2.81" fill="#e6d0ce"/>
<circle cx="211.4" cy="393.6" r="3.06" fill="#8a80bc"/>
<circle cx="211.4" cy="393.6" r="1.53" fill="#a098c8" opacity="0.6"/>
<circle cx="182.2" cy="395.4" r="4.08" fill="#d4a2a9"/>
<circle cx="182.2" cy="395.4" r="2.61" fill="#eadcda"/>
<circle cx="170.7" cy="398" r="3.5700000000000003" fill="#c97a86"/>
<circle cx="170.7" cy="398" r="2.28" fill="#e6d0ce"/>
<circle cx="194.5" cy="400.2" r="3.06" fill="#c97a86"/>
<circle cx="194.5" cy="400.2" r="1.96" fill="#e6d0ce"/>
<circle cx="205.2" cy="399.8" r="3.5700000000000003" fill="#c97a86"/>
<circle cx="205.2" cy="399.8" r="2.28" fill="#e6d0ce"/>
</g></g>
<rect x="125.1" y="305.5" width="88.0" height="96.39999999999998" fill="none" stroke="#b8b8b8" stroke-width="1"/>
<circle cx="165.20" cy="308.00" r="1.1" fill="#2a2070"/>
<circle cx="139.50" cy="335.00" r="1" fill="#2a2070"/>
<circle cx="169.80" cy="335.90" r="1" fill="#2a2070"/>
<circle cx="147.90" cy="358.20" r="0.8" fill="#2a2070"/>
<circle cx="176.00" cy="378.50" r="1" fill="#2a2070"/>
<circle cx="176.00" cy="382.20" r="0.6" fill="#2a2070"/>
<line x1="187.00" y1="327.50" x2="190.02" y2="324.69" stroke="#111" stroke-width="1.25"/>
<path d="M192.80,322.10 L191.45,326.23 L188.59,323.15 Z" fill="#111"/>
<line x1="183.00" y1="378.50" x2="186.94" y2="373.16" stroke="#111" stroke-width="1.25"/>
<path d="M189.20,370.10 L188.63,374.40 L185.25,371.91 Z" fill="#111"/>
<text transform="translate(190.2,389.1) rotate(-90)" font-size="6.2" font-weight="bold" text-anchor="middle" fill="#d42a1a" textLength="14.5" lengthAdjust="spacingAndGlyphs">10 μm</text>
<line x1="191.50" y1="382.50" x2="191.50" y2="396.00" stroke="#e07040" stroke-width="0.7"/>
<text x="65.39" y="412.60" font-size="8.3" fill="#262626" stroke="#262626" stroke-width="0.1" textLength="26.35" lengthAdjust="spacingAndGlyphs">Control</text>
<text x="155.57" y="412.70" font-size="8.3" fill="#262626" stroke="#262626" stroke-width="0.1" textLength="28.62" lengthAdjust="spacingAndGlyphs">FT-4202</text>
<text x="221.98" y="299.60" font-size="12.65" font-weight="bold" fill="#000" textLength="7.56" lengthAdjust="spacingAndGlyphs">F</text>
<line x1="272.50" y1="311.50" x2="275.60" y2="311.50" stroke="#222" stroke-width="1.0"/>
<text x="253.94" y="314.30" font-size="8.2" fill="#262626" stroke="#262626" stroke-width="0.1" textLength="15.16" lengthAdjust="spacingAndGlyphs">15.0</text>
<line x1="272.50" y1="322.80" x2="275.60" y2="322.80" stroke="#222" stroke-width="1.0"/>
<text x="253.96" y="325.60" font-size="8.2" fill="#262626" stroke="#262626" stroke-width="0.1" textLength="15.16" lengthAdjust="spacingAndGlyphs">13.5</text>
<line x1="272.50" y1="332.10" x2="275.60" y2="332.10" stroke="#222" stroke-width="1.0"/>
<text x="258.27" y="334.90" font-size="8.2" fill="#262626" stroke="#262626" stroke-width="0.1" textLength="10.83" lengthAdjust="spacingAndGlyphs">9.0</text>
<line x1="272.50" y1="342.97" x2="275.60" y2="342.97" stroke="#222" stroke-width="1.0"/>
<text x="258.29" y="345.77" font-size="8.2" fill="#262626" stroke="#262626" stroke-width="0.1" textLength="10.83" lengthAdjust="spacingAndGlyphs">7.5</text>
<line x1="272.50" y1="353.84" x2="275.60" y2="353.84" stroke="#222" stroke-width="1.0"/>
<text x="258.27" y="356.64" font-size="8.2" fill="#262626" stroke="#262626" stroke-width="0.1" textLength="10.83" lengthAdjust="spacingAndGlyphs">6.0</text>
<line x1="272.50" y1="364.71" x2="275.60" y2="364.71" stroke="#222" stroke-width="1.0"/>
<text x="258.29" y="367.51" font-size="8.2" fill="#262626" stroke="#262626" stroke-width="0.1" textLength="10.83" lengthAdjust="spacingAndGlyphs">4.5</text>
<line x1="272.50" y1="375.58" x2="275.60" y2="375.58" stroke="#222" stroke-width="1.0"/>
<text x="258.27" y="378.38" font-size="8.2" fill="#262626" stroke="#262626" stroke-width="0.1" textLength="10.83" lengthAdjust="spacingAndGlyphs">3.0</text>
<line x1="272.50" y1="386.45" x2="275.60" y2="386.45" stroke="#222" stroke-width="1.0"/>
<text x="258.29" y="389.25" font-size="8.2" fill="#262626" stroke="#262626" stroke-width="0.1" textLength="10.83" lengthAdjust="spacingAndGlyphs">1.5</text>
<line x1="272.50" y1="397.32" x2="275.60" y2="397.32" stroke="#222" stroke-width="1.0"/>
<text x="258.27" y="400.12" font-size="8.2" fill="#262626" stroke="#262626" stroke-width="0.1" textLength="10.83" lengthAdjust="spacingAndGlyphs">0.0</text>
<rect x="288.10" y="354.70" width="16.30" height="42.60" fill="#a30028"/>
<line x1="296.30" y1="354.70" x2="296.30" y2="344.40" stroke="#222" stroke-width="1.0"/>
<line x1="294.00" y1="344.40" x2="298.60" y2="344.40" stroke="#222" stroke-width="1.3"/>
<rect x="317.30" y="380.00" width="16.40" height="17.30" fill="#2e4b7e"/>
<line x1="325.60" y1="380.00" x2="325.60" y2="377.50" stroke="#222" stroke-width="1.0"/>
<line x1="323.70" y1="377.50" x2="327.50" y2="377.50" stroke="#222" stroke-width="1.3"/>
<circle cx="296.00" cy="366.00" r="0.75" fill="#f0e4e8"/>
<circle cx="296.00" cy="373.10" r="0.75" fill="#f0e4e8"/>
<circle cx="296.00" cy="378.10" r="0.75" fill="#f0e4e8"/>
<circle cx="294.40" cy="382.30" r="0.75" fill="#f0e4e8"/>
<circle cx="298.10" cy="381.00" r="0.75" fill="#f0e4e8"/>
<circle cx="323.75" cy="381.90" r="0.75" fill="#f0e4e8"/>
<circle cx="327.50" cy="381.90" r="0.75" fill="#f0e4e8"/>
<circle cx="321.90" cy="385.25" r="0.75" fill="#f0e4e8"/>
<circle cx="325.60" cy="384.40" r="0.75" fill="#f0e4e8"/>
<circle cx="329.40" cy="385.25" r="0.75" fill="#f0e4e8"/>
<circle cx="296.20" cy="311.50" r="0.6" fill="#a8a8a8"/>
<circle cx="296.20" cy="337.20" r="0.6" fill="#a8a8a8"/>
<circle cx="296.20" cy="340.40" r="0.6" fill="#a8a8a8"/>
<circle cx="325.60" cy="368.10" r="0.6" fill="#a8a8a8"/>
<circle cx="325.60" cy="373.10" r="0.6" fill="#a8a8a8"/>
<circle cx="325.60" cy="361.00" r="1.2" fill="#1a1a1a"/>
<line x1="275.60" y1="308.70" x2="275.60" y2="323.20" stroke="#222" stroke-width="1.2"/>
<line x1="275.60" y1="331.30" x2="275.60" y2="397.90" stroke="#222" stroke-width="1.2"/>
<line x1="274.30" y1="323.20" x2="276.90" y2="323.20" stroke="#222" stroke-width="1.0"/>
<line x1="274.30" y1="331.30" x2="276.90" y2="331.30" stroke="#222" stroke-width="1.0"/>
<line x1="275.00" y1="397.30" x2="341.00" y2="397.30" stroke="#222" stroke-width="1.2"/>
<text x="283.91" y="407.60" font-size="8.6" fill="#262626" stroke="#262626" stroke-width="0.1" textLength="25.42" lengthAdjust="spacingAndGlyphs">Control</text>
<text x="311.18" y="407.60" font-size="8.6" fill="#262626" stroke="#262626" stroke-width="0.1" textLength="28.30" lengthAdjust="spacingAndGlyphs">FT-4202</text>
<text transform="translate(247.50,391.00) rotate(-90)" x="-0.23" y="0" font-size="8.8" fill="#262626" stroke="#262626" stroke-width="0.32" textLength="77.07" lengthAdjust="spacingAndGlyphs">% irreversibly sickled cells</text>
<text x="6.83" y="433.77" font-size="12.71" font-weight="bold" fill="#000" textLength="8.99" lengthAdjust="spacingAndGlyphs">G</text>
<line x1="55.80" y1="585.40" x2="58.50" y2="585.40" stroke="#222" stroke-width="1.0"/>
<text x="36.48" y="588.40" font-size="8.8" fill="#262626" stroke="#262626" stroke-width="0.1" textLength="16.44" lengthAdjust="spacingAndGlyphs">0.00</text>
<line x1="55.80" y1="573.10" x2="58.50" y2="573.10" stroke="#222" stroke-width="1.0"/>
<text x="36.51" y="576.10" font-size="8.8" fill="#262626" stroke="#262626" stroke-width="0.1" textLength="16.44" lengthAdjust="spacingAndGlyphs">0.05</text>
<line x1="55.80" y1="560.80" x2="58.50" y2="560.80" stroke="#222" stroke-width="1.0"/>
<text x="36.48" y="563.80" font-size="8.8" fill="#262626" stroke="#262626" stroke-width="0.1" textLength="16.44" lengthAdjust="spacingAndGlyphs">0.10</text>
<line x1="55.80" y1="548.50" x2="58.50" y2="548.50" stroke="#222" stroke-width="1.0"/>
<text x="36.51" y="551.50" font-size="8.8" fill="#262626" stroke="#262626" stroke-width="0.1" textLength="16.44" lengthAdjust="spacingAndGlyphs">0.15</text>
<line x1="55.80" y1="536.20" x2="58.50" y2="536.20" stroke="#222" stroke-width="1.0"/>
<text x="36.48" y="539.20" font-size="8.8" fill="#262626" stroke="#262626" stroke-width="0.1" textLength="16.44" lengthAdjust="spacingAndGlyphs">0.20</text>
<line x1="55.80" y1="523.90" x2="58.50" y2="523.90" stroke="#222" stroke-width="1.0"/>
<text x="36.51" y="526.90" font-size="8.8" fill="#262626" stroke="#262626" stroke-width="0.1" textLength="16.44" lengthAdjust="spacingAndGlyphs">0.25</text>
<line x1="55.80" y1="511.60" x2="58.50" y2="511.60" stroke="#222" stroke-width="1.0"/>
<text x="36.48" y="514.60" font-size="8.8" fill="#262626" stroke="#262626" stroke-width="0.1" textLength="16.44" lengthAdjust="spacingAndGlyphs">0.30</text>
<line x1="55.80" y1="499.30" x2="58.50" y2="499.30" stroke="#222" stroke-width="1.0"/>
<text x="36.51" y="502.30" font-size="8.8" fill="#262626" stroke="#262626" stroke-width="0.1" textLength="16.44" lengthAdjust="spacingAndGlyphs">0.35</text>
<line x1="55.80" y1="487.00" x2="58.50" y2="487.00" stroke="#222" stroke-width="1.0"/>
<text x="36.48" y="490.00" font-size="8.8" fill="#262626" stroke="#262626" stroke-width="0.1" textLength="16.44" lengthAdjust="spacingAndGlyphs">0.40</text>
<line x1="55.80" y1="474.70" x2="58.50" y2="474.70" stroke="#222" stroke-width="1.0"/>
<text x="36.51" y="477.70" font-size="8.8" fill="#262626" stroke="#262626" stroke-width="0.1" textLength="16.44" lengthAdjust="spacingAndGlyphs">0.45</text>
<line x1="55.80" y1="462.40" x2="58.50" y2="462.40" stroke="#222" stroke-width="1.0"/>
<text x="36.48" y="465.40" font-size="8.8" fill="#262626" stroke="#262626" stroke-width="0.1" textLength="16.44" lengthAdjust="spacingAndGlyphs">0.50</text>
<line x1="55.80" y1="450.10" x2="58.50" y2="450.10" stroke="#222" stroke-width="1.0"/>
<text x="36.51" y="453.10" font-size="8.8" fill="#262626" stroke="#262626" stroke-width="0.1" textLength="16.44" lengthAdjust="spacingAndGlyphs">0.55</text>
<line x1="55.80" y1="437.80" x2="58.50" y2="437.80" stroke="#222" stroke-width="1.0"/>
<text x="36.48" y="440.80" font-size="8.8" fill="#262626" stroke="#262626" stroke-width="0.1" textLength="16.44" lengthAdjust="spacingAndGlyphs">0.60</text>
<line x1="58.30" y1="585.40" x2="58.30" y2="588.30" stroke="#222" stroke-width="1.0"/>
<line x1="71.35" y1="585.40" x2="71.35" y2="588.30" stroke="#222" stroke-width="1.0"/>
<line x1="84.40" y1="585.40" x2="84.40" y2="588.30" stroke="#222" stroke-width="1.0"/>
<line x1="97.45" y1="585.40" x2="97.45" y2="588.30" stroke="#222" stroke-width="1.0"/>
<line x1="110.50" y1="585.40" x2="110.50" y2="588.30" stroke="#222" stroke-width="1.0"/>
<line x1="123.55" y1="585.40" x2="123.55" y2="588.30" stroke="#222" stroke-width="1.0"/>
<line x1="136.60" y1="585.40" x2="136.60" y2="588.30" stroke="#222" stroke-width="1.0"/>
<line x1="149.65" y1="585.40" x2="149.65" y2="588.30" stroke="#222" stroke-width="1.0"/>
<line x1="162.70" y1="585.40" x2="162.70" y2="588.30" stroke="#222" stroke-width="1.0"/>
<line x1="175.75" y1="585.40" x2="175.75" y2="588.30" stroke="#222" stroke-width="1.0"/>
<line x1="188.80" y1="585.40" x2="188.80" y2="588.30" stroke="#222" stroke-width="1.0"/>
<text x="56.00" y="599.20" font-size="8.6" fill="#262626" stroke="#262626" stroke-width="0.1" textLength="4.59" lengthAdjust="spacingAndGlyphs">0</text>
<text x="79.76" y="599.20" font-size="8.6" fill="#262626" stroke="#262626" stroke-width="0.1" textLength="9.18" lengthAdjust="spacingAndGlyphs">20</text>
<text x="105.98" y="599.20" font-size="8.6" fill="#262626" stroke="#262626" stroke-width="0.1" textLength="9.18" lengthAdjust="spacingAndGlyphs">40</text>
<text x="131.96" y="599.20" font-size="8.6" fill="#262626" stroke="#262626" stroke-width="0.1" textLength="9.18" lengthAdjust="spacingAndGlyphs">60</text>
<text x="158.09" y="599.20" font-size="8.6" fill="#262626" stroke="#262626" stroke-width="0.1" textLength="9.18" lengthAdjust="spacingAndGlyphs">80</text>
<text x="181.76" y="599.20" font-size="8.6" fill="#262626" stroke="#262626" stroke-width="0.1" textLength="13.77" lengthAdjust="spacingAndGlyphs">100</text>
<text x="105.64" y="611.60" font-size="9.2" fill="#262626" stroke="#262626" stroke-width="0.22" textLength="38.99" lengthAdjust="spacingAndGlyphs">P02 (mmHg)</text>
<text transform="translate(32.00,533.80) rotate(-90)" x="-0.53" y="0" font-size="8.8" fill="#262626" stroke="#262626" stroke-width="0.32" textLength="47.69" lengthAdjust="spacingAndGlyphs">Elongation index</text>
<line x1="130.00" y1="458.50" x2="189.20" y2="458.50" stroke="#98aacc" stroke-width="1.0"/>
<line x1="130.00" y1="469.60" x2="189.20" y2="469.60" stroke="#dc94a4" stroke-width="1.0"/>
<path d="M80.80,491.30 C81.20,490.58 82.08,487.95 83.20,487.00 C84.32,486.05 85.98,486.48 87.50,485.60 C89.02,484.72 90.53,483.30 92.30,481.70 C94.07,480.10 96.33,477.75 98.10,476.00 C99.87,474.25 101.30,472.73 102.90,471.20 C104.50,469.67 106.10,468.08 107.70,466.80 C109.30,465.52 111.05,464.38 112.50,463.50 C113.95,462.62 114.95,462.07 116.40,461.50 C117.85,460.93 119.60,460.45 121.20,460.10 C122.80,459.75 123.70,459.60 126.00,459.40 C128.30,459.20 131.00,459.03 135.00,458.90 C139.00,458.77 142.83,458.68 150.00,458.60 C157.17,458.52 173.03,457.87 178.00,458.40 C182.97,458.93 179.50,461.23 179.80,461.80" fill="none" stroke="#4464a2" stroke-width="1.1" stroke-linejoin="round"/>
<path d="M80.80,491.30 C80.83,490.83 80.68,489.62 81.00,488.50 C81.32,487.38 81.93,486.22 82.70,484.60 C83.47,482.98 84.47,480.88 85.60,478.80 C86.73,476.72 88.22,473.85 89.50,472.10 C90.78,470.35 91.95,469.33 93.30,468.30 C94.65,467.27 96.00,466.70 97.60,465.90 C99.20,465.10 101.05,464.23 102.90,463.50 C104.75,462.77 106.77,462.02 108.70,461.50 C110.63,460.98 112.58,460.72 114.50,460.40 C116.42,460.08 118.28,459.80 120.20,459.60 C122.12,459.40 123.53,459.33 126.00,459.20 C128.47,459.07 131.00,458.93 135.00,458.80 C139.00,458.67 145.00,458.50 150.00,458.40 C155.00,458.30 160.33,458.25 165.00,458.20 C169.67,458.15 175.83,458.12 178.00,458.10" fill="none" stroke="#4464a2" stroke-width="1.8" stroke-linejoin="round"/>
<path d="M81.50,510.60 C82.25,510.33 84.55,509.73 86.00,509.00 C87.45,508.27 88.67,507.70 90.20,506.20 C91.73,504.70 93.72,501.83 95.20,500.00 C96.68,498.17 97.65,497.12 99.10,495.20 C100.55,493.28 102.30,490.58 103.90,488.50 C105.50,486.42 107.27,484.32 108.70,482.70 C110.13,481.08 111.07,480.08 112.50,478.80 C113.93,477.52 115.68,476.03 117.30,475.00 C118.92,473.97 120.75,473.17 122.20,472.60 C123.65,472.03 123.87,471.93 126.00,471.60 C128.13,471.27 131.00,470.88 135.00,470.60 C139.00,470.32 142.83,470.07 150.00,469.90 C157.17,469.73 173.33,469.65 178.00,469.60" fill="none" stroke="#c22c4e" stroke-width="1.1" stroke-linejoin="round"/>
<path d="M81.50,510.60 C81.83,509.83 82.73,507.77 83.50,506.00 C84.27,504.23 85.27,502.12 86.10,500.00 C86.93,497.88 87.62,495.38 88.50,493.30 C89.38,491.22 90.28,489.43 91.40,487.50 C92.52,485.57 93.77,483.30 95.20,481.70 C96.63,480.10 98.07,478.98 100.00,477.90 C101.93,476.82 104.38,475.92 106.80,475.20 C109.22,474.48 112.10,474.12 114.50,473.60 C116.90,473.08 119.28,472.53 121.20,472.10 C123.12,471.67 123.70,471.32 126.00,471.00 C128.30,470.68 131.00,470.43 135.00,470.20 C139.00,469.97 142.83,469.75 150.00,469.60 C157.17,469.45 173.33,469.35 178.00,469.30" fill="none" stroke="#c22c4e" stroke-width="1.8" stroke-linejoin="round"/>
<circle cx="80.80" cy="491.30" r="0.9" fill="#4464a2"/>
<circle cx="81.00" cy="488.50" r="0.9" fill="#4464a2"/>
<circle cx="82.70" cy="484.60" r="0.9" fill="#4464a2"/>
<circle cx="85.60" cy="478.80" r="0.9" fill="#4464a2"/>
<circle cx="89.50" cy="472.10" r="0.9" fill="#4464a2"/>
<circle cx="93.30" cy="468.30" r="0.9" fill="#4464a2"/>
<circle cx="97.60" cy="465.90" r="0.9" fill="#4464a2"/>
<circle cx="102.90" cy="463.50" r="0.9" fill="#4464a2"/>
<circle cx="108.70" cy="461.50" r="0.9" fill="#4464a2"/>
<circle cx="114.50" cy="460.40" r="0.9" fill="#4464a2"/>
<circle cx="120.20" cy="459.60" r="0.9" fill="#4464a2"/>
<circle cx="126.00" cy="459.20" r="0.9" fill="#4464a2"/>
<circle cx="80.80" cy="491.30" r="0.9" fill="#4464a2"/>
<circle cx="83.20" cy="487.00" r="0.9" fill="#4464a2"/>
<circle cx="87.50" cy="485.60" r="0.9" fill="#4464a2"/>
<circle cx="92.30" cy="481.70" r="0.9" fill="#4464a2"/>
<circle cx="98.10" cy="476.00" r="0.9" fill="#4464a2"/>
<circle cx="102.90" cy="471.20" r="0.9" fill="#4464a2"/>
<circle cx="107.70" cy="466.80" r="0.9" fill="#4464a2"/>
<circle cx="112.50" cy="463.50" r="0.9" fill="#4464a2"/>
<circle cx="116.40" cy="461.50" r="0.9" fill="#4464a2"/>
<circle cx="121.20" cy="460.10" r="0.9" fill="#4464a2"/>
<circle cx="126.00" cy="459.40" r="0.9" fill="#4464a2"/>
<circle cx="81.50" cy="510.60" r="0.9" fill="#c22c4e"/>
<circle cx="83.50" cy="506.00" r="0.9" fill="#c22c4e"/>
<circle cx="86.10" cy="500.00" r="0.9" fill="#c22c4e"/>
<circle cx="88.50" cy="493.30" r="0.9" fill="#c22c4e"/>
<circle cx="91.40" cy="487.50" r="0.9" fill="#c22c4e"/>
<circle cx="95.20" cy="481.70" r="0.9" fill="#c22c4e"/>
<circle cx="100.00" cy="477.90" r="0.9" fill="#c22c4e"/>
<circle cx="106.80" cy="475.20" r="0.9" fill="#c22c4e"/>
<circle cx="114.50" cy="473.60" r="0.9" fill="#c22c4e"/>
<circle cx="121.20" cy="472.10" r="0.9" fill="#c22c4e"/>
<circle cx="126.00" cy="471.00" r="0.9" fill="#c22c4e"/>
<circle cx="81.50" cy="510.60" r="0.9" fill="#c22c4e"/>
<circle cx="86.00" cy="509.00" r="0.9" fill="#c22c4e"/>
<circle cx="90.20" cy="506.20" r="0.9" fill="#c22c4e"/>
<circle cx="95.20" cy="500.00" r="0.9" fill="#c22c4e"/>
<circle cx="99.10" cy="495.20" r="0.9" fill="#c22c4e"/>
<circle cx="103.90" cy="488.50" r="0.9" fill="#c22c4e"/>
<circle cx="108.70" cy="482.70" r="0.9" fill="#c22c4e"/>
<circle cx="112.50" cy="478.80" r="0.9" fill="#c22c4e"/>
<circle cx="117.30" cy="475.00" r="0.9" fill="#c22c4e"/>
<circle cx="122.20" cy="472.60" r="0.9" fill="#c22c4e"/>
<circle cx="126.00" cy="471.60" r="0.9" fill="#c22c4e"/>
<path d="M132.0,457.1 l1.1,1.3 l-1.1,1.3 l-1.1,-1.3 Z" fill="#4464a2"/>
<path d="M132.0,468.2 l1.1,1.3 l-1.1,1.3 l-1.1,-1.3 Z" fill="#c22c4e"/>
<path d="M136.2,457.1 l1.1,1.3 l-1.1,1.3 l-1.1,-1.3 Z" fill="#4464a2"/>
<path d="M136.2,468.2 l1.1,1.3 l-1.1,1.3 l-1.1,-1.3 Z" fill="#c22c4e"/>
<path d="M140.4,457.1 l1.1,1.3 l-1.1,1.3 l-1.1,-1.3 Z" fill="#4464a2"/>
<path d="M140.4,468.2 l1.1,1.3 l-1.1,1.3 l-1.1,-1.3 Z" fill="#c22c4e"/>
<path d="M144.6,457.1 l1.1,1.3 l-1.1,1.3 l-1.1,-1.3 Z" fill="#4464a2"/>
<path d="M144.6,468.2 l1.1,1.3 l-1.1,1.3 l-1.1,-1.3 Z" fill="#c22c4e"/>
<path d="M148.8,457.1 l1.1,1.3 l-1.1,1.3 l-1.1,-1.3 Z" fill="#4464a2"/>
<path d="M148.8,468.2 l1.1,1.3 l-1.1,1.3 l-1.1,-1.3 Z" fill="#c22c4e"/>
<path d="M153.0,457.1 l1.1,1.3 l-1.1,1.3 l-1.1,-1.3 Z" fill="#4464a2"/>
<path d="M153.0,468.2 l1.1,1.3 l-1.1,1.3 l-1.1,-1.3 Z" fill="#c22c4e"/>
<path d="M157.2,457.1 l1.1,1.3 l-1.1,1.3 l-1.1,-1.3 Z" fill="#4464a2"/>
<path d="M157.2,468.2 l1.1,1.3 l-1.1,1.3 l-1.1,-1.3 Z" fill="#c22c4e"/>
<path d="M161.4,457.1 l1.1,1.3 l-1.1,1.3 l-1.1,-1.3 Z" fill="#4464a2"/>
<path d="M161.4,468.2 l1.1,1.3 l-1.1,1.3 l-1.1,-1.3 Z" fill="#c22c4e"/>
<path d="M165.6,457.1 l1.1,1.3 l-1.1,1.3 l-1.1,-1.3 Z" fill="#4464a2"/>
<path d="M165.6,468.2 l1.1,1.3 l-1.1,1.3 l-1.1,-1.3 Z" fill="#c22c4e"/>
<path d="M169.8,457.1 l1.1,1.3 l-1.1,1.3 l-1.1,-1.3 Z" fill="#4464a2"/>
<path d="M169.8,468.2 l1.1,1.3 l-1.1,1.3 l-1.1,-1.3 Z" fill="#c22c4e"/>
<path d="M174.0,457.1 l1.1,1.3 l-1.1,1.3 l-1.1,-1.3 Z" fill="#4464a2"/>
<path d="M174.0,468.2 l1.1,1.3 l-1.1,1.3 l-1.1,-1.3 Z" fill="#c22c4e"/>
<path d="M178.2,457.1 l1.1,1.3 l-1.1,1.3 l-1.1,-1.3 Z" fill="#4464a2"/>
<path d="M178.2,468.2 l1.1,1.3 l-1.1,1.3 l-1.1,-1.3 Z" fill="#c22c4e"/>
<line x1="58.50" y1="435.50" x2="58.50" y2="588.30" stroke="#222" stroke-width="1.2"/>
<line x1="57.90" y1="585.40" x2="192.00" y2="585.40" stroke="#222" stroke-width="1.2"/>
<line x1="76.50" y1="439.10" x2="93.10" y2="439.10" stroke="#4464a2" stroke-width="1.0"/>
<circle cx="84.60" cy="439.10" r="1.1" fill="#4464a2"/>
<text x="95.18" y="441.60" font-size="7.6" fill="#262626" stroke="#262626" stroke-width="0.1" textLength="28.30" lengthAdjust="spacingAndGlyphs">FT-4202</text>
<line x1="138.10" y1="439.10" x2="154.20" y2="439.10" stroke="#c22c4e" stroke-width="1.0"/>
<circle cx="146.10" cy="439.10" r="1.1" fill="#c22c4e"/>
<text x="157.31" y="441.60" font-size="7.6" fill="#262626" stroke="#262626" stroke-width="0.1" textLength="25.11" lengthAdjust="spacingAndGlyphs">Control</text>
<text x="96.62" y="536.30" font-size="7.6" fill="#b8244a" stroke="#b8244a" stroke-width="0.1" textLength="24.38" lengthAdjust="spacingAndGlyphs">Control</text>
<line x1="97.00" y1="537.50" x2="120.50" y2="537.50" stroke="#b8244a" stroke-width="0.6"/>
<text x="131.89" y="536.30" font-size="7.6" fill="#4a6aa8" stroke="#4a6aa8" stroke-width="0.1" textLength="27.79" lengthAdjust="spacingAndGlyphs">FT-4202</text>
<line x1="132.50" y1="537.50" x2="159.30" y2="537.50" stroke="#4a6aa8" stroke-width="0.6"/>
<text x="168.21" y="536.30" font-size="7.6" fill="#262626" stroke="#262626" stroke-width="0.1" textLength="23.91" lengthAdjust="spacingAndGlyphs"><tspan font-style="italic">P</tspan> value</text>
<line x1="168.80" y1="537.50" x2="191.80" y2="537.50" stroke="#262626" stroke-width="0.6"/>
<text x="76.42" y="547.20" font-size="7.6" fill="#262626" stroke="#262626" stroke-width="0.1" textLength="13.40" lengthAdjust="spacingAndGlyphs">PoS</text>
<text x="96.70" y="547.20" font-size="7.6" fill="#b8244a" stroke="#b8244a" stroke-width="0.1" textLength="22.00" lengthAdjust="spacingAndGlyphs">37 ± 2</text>
<text x="132.19" y="547.20" font-size="7.6" fill="#4a6aa8" stroke="#4a6aa8" stroke-width="0.1" textLength="22.50" lengthAdjust="spacingAndGlyphs">30 ± 1</text>
<text x="168.08" y="547.20" font-size="7.6" fill="#262626" stroke="#262626" stroke-width="0.1" textLength="15.31" lengthAdjust="spacingAndGlyphs">.002</text>
<text x="76.51" y="558.20" font-size="7.6" fill="#262626" stroke="#262626" stroke-width="0.1" textLength="15.17" lengthAdjust="spacingAndGlyphs">EI<tspan font-size="5" dy="1.5">min</tspan></text>
<text x="95.57" y="558.20" font-size="7.6" fill="#b8244a" stroke="#b8244a" stroke-width="0.1" textLength="31.13" lengthAdjust="spacingAndGlyphs">.29 ± .02</text>
<text x="131.77" y="558.20" font-size="7.6" fill="#4a6aa8" stroke="#4a6aa8" stroke-width="0.1" textLength="31.07" lengthAdjust="spacingAndGlyphs">.36 ± .03</text>
<text x="168.08" y="558.20" font-size="7.6" fill="#262626" stroke="#262626" stroke-width="0.1" textLength="11.07" lengthAdjust="spacingAndGlyphs">.03</text>
<text x="222.00" y="433.30" font-size="11.77" font-weight="bold" fill="#000" textLength="8.71" lengthAdjust="spacingAndGlyphs">H</text>
<text x="270.65" y="473.10" font-size="9.4" fill="#262626" stroke="#262626" stroke-width="0.1" textLength="90.34" lengthAdjust="spacingAndGlyphs">Before Deoxygenation</text>
<line x1="270.30" y1="484.20" x2="273.30" y2="484.20" stroke="#222" stroke-width="1.0"/>
<text x="247.77" y="486.70" font-size="8.5" fill="#262626" stroke="#262626" stroke-width="0.1" textLength="16.05" lengthAdjust="spacingAndGlyphs">0.50</text>
<line x1="270.30" y1="514.62" x2="273.30" y2="514.62" stroke="#222" stroke-width="1.0"/>
<text x="247.79" y="517.12" font-size="8.5" fill="#262626" stroke="#262626" stroke-width="0.1" textLength="16.05" lengthAdjust="spacingAndGlyphs">0.35</text>
<line x1="270.30" y1="545.04" x2="273.30" y2="545.04" stroke="#222" stroke-width="1.0"/>
<text x="247.77" y="547.54" font-size="8.5" fill="#262626" stroke="#262626" stroke-width="0.1" textLength="16.05" lengthAdjust="spacingAndGlyphs">0.20</text>
<line x1="270.30" y1="575.46" x2="273.30" y2="575.46" stroke="#222" stroke-width="1.0"/>
<text x="247.79" y="577.96" font-size="8.5" fill="#262626" stroke="#262626" stroke-width="0.1" textLength="16.05" lengthAdjust="spacingAndGlyphs">0.05</text>
<line x1="273.30" y1="585.60" x2="273.30" y2="588.40" stroke="#222" stroke-width="1.0"/>
<text x="270.99" y="599.40" font-size="8.3" fill="#262626" stroke="#262626" stroke-width="0.1" textLength="4.62" lengthAdjust="spacingAndGlyphs">0</text>
<line x1="287.00" y1="585.60" x2="287.00" y2="588.40" stroke="#222" stroke-width="1.0"/>
<text x="284.70" y="599.40" font-size="8.3" fill="#262626" stroke="#262626" stroke-width="0.1" textLength="4.62" lengthAdjust="spacingAndGlyphs">5</text>
<line x1="300.70" y1="585.60" x2="300.70" y2="588.40" stroke="#222" stroke-width="1.0"/>
<text x="295.93" y="599.40" font-size="8.3" fill="#262626" stroke="#262626" stroke-width="0.1" textLength="9.23" lengthAdjust="spacingAndGlyphs">10</text>
<line x1="314.40" y1="585.60" x2="314.40" y2="588.40" stroke="#222" stroke-width="1.0"/>
<text x="309.64" y="599.40" font-size="8.3" fill="#262626" stroke="#262626" stroke-width="0.1" textLength="9.23" lengthAdjust="spacingAndGlyphs">15</text>
<line x1="328.10" y1="585.60" x2="328.10" y2="588.40" stroke="#222" stroke-width="1.0"/>
<text x="323.44" y="599.40" font-size="8.3" fill="#262626" stroke="#262626" stroke-width="0.1" textLength="9.23" lengthAdjust="spacingAndGlyphs">20</text>
<line x1="341.80" y1="585.60" x2="341.80" y2="588.40" stroke="#222" stroke-width="1.0"/>
<text x="337.15" y="599.40" font-size="8.3" fill="#262626" stroke="#262626" stroke-width="0.1" textLength="9.23" lengthAdjust="spacingAndGlyphs">25</text>
<line x1="355.50" y1="585.60" x2="355.50" y2="588.40" stroke="#222" stroke-width="1.0"/>
<text x="350.89" y="599.40" font-size="8.3" fill="#262626" stroke="#262626" stroke-width="0.1" textLength="9.23" lengthAdjust="spacingAndGlyphs">30</text>
<polyline points="274.12,574.24 274.75,564.51 275.90,554.17 277.93,536.93 281.52,522.53 287.90,513.20 299.30,506.31 319.52,499.61 355.50,493.73" fill="none" stroke="#b3173a" stroke-width="1.3" stroke-linejoin="round"/>
<line x1="275.90" y1="554.17" x2="275.90" y2="552.54" stroke="#b3173a" stroke-width="0.9"/>
<line x1="273.80" y1="552.54" x2="278.00" y2="552.54" stroke="#b3173a" stroke-width="1.1"/>
<line x1="277.93" y1="536.93" x2="277.93" y2="534.90" stroke="#b3173a" stroke-width="0.9"/>
<line x1="275.83" y1="534.90" x2="280.03" y2="534.90" stroke="#b3173a" stroke-width="1.1"/>
<line x1="281.52" y1="522.53" x2="281.52" y2="520.10" stroke="#b3173a" stroke-width="0.9"/>
<line x1="279.42" y1="520.10" x2="283.62" y2="520.10" stroke="#b3173a" stroke-width="1.1"/>
<line x1="287.90" y1="513.20" x2="287.90" y2="510.36" stroke="#b3173a" stroke-width="0.9"/>
<line x1="285.80" y1="510.36" x2="290.00" y2="510.36" stroke="#b3173a" stroke-width="1.1"/>
<line x1="299.30" y1="506.31" x2="299.30" y2="503.06" stroke="#b3173a" stroke-width="0.9"/>
<line x1="297.20" y1="503.06" x2="301.40" y2="503.06" stroke="#b3173a" stroke-width="1.1"/>
<line x1="319.52" y1="499.61" x2="319.52" y2="496.37" stroke="#b3173a" stroke-width="0.9"/>
<line x1="317.42" y1="496.37" x2="321.62" y2="496.37" stroke="#b3173a" stroke-width="1.1"/>
<line x1="355.50" y1="493.73" x2="355.50" y2="490.08" stroke="#b3173a" stroke-width="0.9"/>
<line x1="353.40" y1="490.08" x2="357.60" y2="490.08" stroke="#b3173a" stroke-width="1.1"/>
<polyline points="274.12,573.03 274.75,562.89 275.90,551.53 277.93,531.86 281.52,516.24 287.90,505.90 299.30,496.98 319.52,490.49 355.50,484.61" fill="none" stroke="#2b4f92" stroke-width="1.3" stroke-linejoin="round"/>
<line x1="275.90" y1="551.53" x2="275.90" y2="549.91" stroke="#2b4f92" stroke-width="0.9"/>
<line x1="273.80" y1="549.91" x2="278.00" y2="549.91" stroke="#2b4f92" stroke-width="1.1"/>
<line x1="277.93" y1="531.86" x2="277.93" y2="529.83" stroke="#2b4f92" stroke-width="0.9"/>
<line x1="275.83" y1="529.83" x2="280.03" y2="529.83" stroke="#2b4f92" stroke-width="1.1"/>
<line x1="281.52" y1="516.24" x2="281.52" y2="513.81" stroke="#2b4f92" stroke-width="0.9"/>
<line x1="279.42" y1="513.81" x2="283.62" y2="513.81" stroke="#2b4f92" stroke-width="1.1"/>
<line x1="287.90" y1="505.90" x2="287.90" y2="503.06" stroke="#2b4f92" stroke-width="0.9"/>
<line x1="285.80" y1="503.06" x2="290.00" y2="503.06" stroke="#2b4f92" stroke-width="1.1"/>
<line x1="299.30" y1="496.98" x2="299.30" y2="493.73" stroke="#2b4f92" stroke-width="0.9"/>
<line x1="297.20" y1="493.73" x2="301.40" y2="493.73" stroke="#2b4f92" stroke-width="1.1"/>
<line x1="319.52" y1="490.49" x2="319.52" y2="487.44" stroke="#2b4f92" stroke-width="0.9"/>
<line x1="317.42" y1="487.44" x2="321.62" y2="487.44" stroke="#2b4f92" stroke-width="1.1"/>
<circle cx="274.12" cy="574.24" r="1.6" fill="#b3173a"/>
<circle cx="274.75" cy="564.51" r="1.6" fill="#b3173a"/>
<circle cx="275.90" cy="554.17" r="1.6" fill="#b3173a"/>
<circle cx="277.93" cy="536.93" r="1.6" fill="#b3173a"/>
<circle cx="281.52" cy="522.53" r="1.6" fill="#b3173a"/>
<circle cx="287.90" cy="513.20" r="1.6" fill="#b3173a"/>
<circle cx="299.30" cy="506.31" r="1.6" fill="#b3173a"/>
<circle cx="319.52" cy="499.61" r="1.6" fill="#b3173a"/>
<circle cx="355.50" cy="493.73" r="1.6" fill="#b3173a"/>
<path d="M274.12,571.13 L275.82,574.13 L272.42,574.13 Z" fill="#2b4f92"/>
<path d="M274.75,560.99 L276.45,563.99 L273.05,563.99 Z" fill="#2b4f92"/>
<path d="M275.90,549.63 L277.60,552.63 L274.20,552.63 Z" fill="#2b4f92"/>
<path d="M277.93,529.96 L279.63,532.96 L276.23,532.96 Z" fill="#2b4f92"/>
<path d="M281.52,514.34 L283.22,517.34 L279.82,517.34 Z" fill="#2b4f92"/>
<path d="M287.90,504.00 L289.60,507.00 L286.20,507.00 Z" fill="#2b4f92"/>
<path d="M299.30,495.08 L301.00,498.08 L297.60,498.08 Z" fill="#2b4f92"/>
<path d="M319.52,488.59 L321.22,491.59 L317.82,491.59 Z" fill="#2b4f92"/>
<path d="M355.50,482.71 L357.20,485.71 L353.80,485.71 Z" fill="#2b4f92"/>
<line x1="273.30" y1="481.70" x2="273.30" y2="588.40" stroke="#222" stroke-width="1.2"/>
<line x1="272.70" y1="585.60" x2="358.60" y2="585.60" stroke="#222" stroke-width="1.2"/>
<line x1="319.50" y1="564.60" x2="324.30" y2="564.60" stroke="#b3173a" stroke-width="1.0"/>
<circle cx="321.70" cy="564.60" r="1.6" fill="#b3173a"/>
<text x="326.92" y="566.70" font-size="7.3" fill="#262626" stroke="#262626" stroke-width="0.1" textLength="24.49" lengthAdjust="spacingAndGlyphs">Control</text>
<line x1="319.50" y1="575.80" x2="324.30" y2="575.80" stroke="#2b4f92" stroke-width="1.0"/>
<path d="M321.7,573.9 L323.4,576.9 L320.0,576.9 Z" fill="#2b4f92"/>
<text x="326.70" y="578.20" font-size="7.3" fill="#262626" stroke="#262626" stroke-width="0.1" textLength="27.27" lengthAdjust="spacingAndGlyphs">FT-4202</text>
<text x="290.41" y="611.10" font-size="9.0" fill="#262626" stroke="#262626" stroke-width="0.2" textLength="50.60" lengthAdjust="spacingAndGlyphs">Shear stress (Pa)</text>
<text transform="translate(240.10,564.50) rotate(-90)" x="-0.55" y="0" font-size="8.8" fill="#262626" stroke="#262626" stroke-width="0.32" textLength="62.17" lengthAdjust="spacingAndGlyphs">Elongation index (EI)</text>
<circle cx="299.30" cy="487.40" r="1.2" fill="#1a1a1a"/>
<circle cx="319.52" cy="481.30" r="1.2" fill="#1a1a1a"/>
<circle cx="355.50" cy="477.20" r="1.2" fill="#1a1a1a"/>
<text x="369.16" y="433.60" font-size="12.35" font-weight="bold" fill="#000" textLength="4.79" lengthAdjust="spacingAndGlyphs">I</text>
<text x="416.78" y="465.00" font-size="9.4" fill="#262626" stroke="#262626" stroke-width="0.1" textLength="71.10" lengthAdjust="spacingAndGlyphs">After one cycle of</text>
<text x="391.46" y="476.20" font-size="9.4" fill="#262626" stroke="#262626" stroke-width="0.1" textLength="118.92" lengthAdjust="spacingAndGlyphs">Deoxygenation/reoxygenation</text>
<line x1="406.70" y1="484.20" x2="409.70" y2="484.20" stroke="#222" stroke-width="1.0"/>
<text x="387.67" y="486.70" font-size="8.5" fill="#262626" stroke="#262626" stroke-width="0.1" textLength="16.05" lengthAdjust="spacingAndGlyphs">0.50</text>
<line x1="406.70" y1="514.62" x2="409.70" y2="514.62" stroke="#222" stroke-width="1.0"/>
<text x="387.69" y="517.12" font-size="8.5" fill="#262626" stroke="#262626" stroke-width="0.1" textLength="16.05" lengthAdjust="spacingAndGlyphs">0.35</text>
<line x1="406.70" y1="545.04" x2="409.70" y2="545.04" stroke="#222" stroke-width="1.0"/>
<text x="387.67" y="547.54" font-size="8.5" fill="#262626" stroke="#262626" stroke-width="0.1" textLength="16.05" lengthAdjust="spacingAndGlyphs">0.20</text>
<line x1="406.70" y1="575.46" x2="409.70" y2="575.46" stroke="#222" stroke-width="1.0"/>
<text x="387.69" y="577.96" font-size="8.5" fill="#262626" stroke="#262626" stroke-width="0.1" textLength="16.05" lengthAdjust="spacingAndGlyphs">0.05</text>
<line x1="409.70" y1="585.60" x2="409.70" y2="588.40" stroke="#222" stroke-width="1.0"/>
<text x="407.39" y="599.40" font-size="8.3" fill="#262626" stroke="#262626" stroke-width="0.1" textLength="4.62" lengthAdjust="spacingAndGlyphs">0</text>
<line x1="423.40" y1="585.60" x2="423.40" y2="588.40" stroke="#222" stroke-width="1.0"/>
<text x="421.10" y="599.40" font-size="8.3" fill="#262626" stroke="#262626" stroke-width="0.1" textLength="4.62" lengthAdjust="spacingAndGlyphs">5</text>
<line x1="437.10" y1="585.60" x2="437.10" y2="588.40" stroke="#222" stroke-width="1.0"/>
<text x="432.33" y="599.40" font-size="8.3" fill="#262626" stroke="#262626" stroke-width="0.1" textLength="9.23" lengthAdjust="spacingAndGlyphs">10</text>
<line x1="450.80" y1="585.60" x2="450.80" y2="588.40" stroke="#222" stroke-width="1.0"/>
<text x="446.04" y="599.40" font-size="8.3" fill="#262626" stroke="#262626" stroke-width="0.1" textLength="9.23" lengthAdjust="spacingAndGlyphs">15</text>
<line x1="464.50" y1="585.60" x2="464.50" y2="588.40" stroke="#222" stroke-width="1.0"/>
<text x="459.84" y="599.40" font-size="8.3" fill="#262626" stroke="#262626" stroke-width="0.1" textLength="9.23" lengthAdjust="spacingAndGlyphs">20</text>
<line x1="478.20" y1="585.60" x2="478.20" y2="588.40" stroke="#222" stroke-width="1.0"/>
<text x="473.55" y="599.40" font-size="8.3" fill="#262626" stroke="#262626" stroke-width="0.1" textLength="9.23" lengthAdjust="spacingAndGlyphs">25</text>
<line x1="491.90" y1="585.60" x2="491.90" y2="588.40" stroke="#222" stroke-width="1.0"/>
<text x="487.29" y="599.40" font-size="8.3" fill="#262626" stroke="#262626" stroke-width="0.1" textLength="9.23" lengthAdjust="spacingAndGlyphs">30</text>
<polyline points="410.52,577.89 411.15,570.39 412.30,563.49 414.33,551.12 417.92,542.20 424.30,536.93 435.70,533.68 455.92,531.05 491.90,525.37" fill="none" stroke="#b3173a" stroke-width="1.3" stroke-linejoin="round"/>
<line x1="417.92" y1="542.20" x2="417.92" y2="539.77" stroke="#b3173a" stroke-width="0.9"/>
<line x1="415.82" y1="539.77" x2="420.02" y2="539.77" stroke="#b3173a" stroke-width="1.1"/>
<line x1="424.30" y1="536.93" x2="424.30" y2="533.68" stroke="#b3173a" stroke-width="0.9"/>
<line x1="422.20" y1="533.68" x2="426.40" y2="533.68" stroke="#b3173a" stroke-width="1.1"/>
<line x1="435.70" y1="533.68" x2="435.70" y2="529.83" stroke="#b3173a" stroke-width="0.9"/>
<line x1="433.60" y1="529.83" x2="437.80" y2="529.83" stroke="#b3173a" stroke-width="1.1"/>
<line x1="455.92" y1="531.05" x2="455.92" y2="526.59" stroke="#b3173a" stroke-width="0.9"/>
<line x1="453.82" y1="526.59" x2="458.02" y2="526.59" stroke="#b3173a" stroke-width="1.1"/>
<line x1="491.90" y1="525.37" x2="491.90" y2="521.11" stroke="#b3173a" stroke-width="0.9"/>
<line x1="489.80" y1="521.11" x2="494.00" y2="521.11" stroke="#b3173a" stroke-width="1.1"/>
<polyline points="410.52,572.01 411.15,561.87 412.30,552.95 414.33,544.03 417.92,530.24 424.30,523.14 435.70,517.46 455.92,513.61 491.90,506.51" fill="none" stroke="#2b4f92" stroke-width="1.3" stroke-linejoin="round"/>
<line x1="424.30" y1="523.14" x2="424.30" y2="519.69" stroke="#2b4f92" stroke-width="0.9"/>
<line x1="422.20" y1="519.69" x2="426.40" y2="519.69" stroke="#2b4f92" stroke-width="1.1"/>
<line x1="435.70" y1="517.46" x2="435.70" y2="513.40" stroke="#2b4f92" stroke-width="0.9"/>
<line x1="433.60" y1="513.40" x2="437.80" y2="513.40" stroke="#2b4f92" stroke-width="1.1"/>
<line x1="455.92" y1="513.61" x2="455.92" y2="509.55" stroke="#2b4f92" stroke-width="0.9"/>
<line x1="453.82" y1="509.55" x2="458.02" y2="509.55" stroke="#2b4f92" stroke-width="1.1"/>
<line x1="491.90" y1="506.51" x2="491.90" y2="502.65" stroke="#2b4f92" stroke-width="0.9"/>
<line x1="489.80" y1="502.65" x2="494.00" y2="502.65" stroke="#2b4f92" stroke-width="1.1"/>
<circle cx="410.52" cy="577.89" r="1.6" fill="#b3173a"/>
<circle cx="411.15" cy="570.39" r="1.6" fill="#b3173a"/>
<circle cx="412.30" cy="563.49" r="1.6" fill="#b3173a"/>
<circle cx="414.33" cy="551.12" r="1.6" fill="#b3173a"/>
<circle cx="417.92" cy="542.20" r="1.6" fill="#b3173a"/>
<circle cx="424.30" cy="536.93" r="1.6" fill="#b3173a"/>
<circle cx="435.70" cy="533.68" r="1.6" fill="#b3173a"/>
<circle cx="455.92" cy="531.05" r="1.6" fill="#b3173a"/>
<circle cx="491.90" cy="525.37" r="1.6" fill="#b3173a"/>
<path d="M410.52,570.11 L412.22,573.11 L408.82,573.11 Z" fill="#2b4f92"/>
<path d="M411.15,559.97 L412.85,562.97 L409.45,562.97 Z" fill="#2b4f92"/>
<path d="M412.30,551.05 L414.00,554.05 L410.60,554.05 Z" fill="#2b4f92"/>
<path d="M414.33,542.13 L416.03,545.13 L412.63,545.13 Z" fill="#2b4f92"/>
<path d="M417.92,528.34 L419.62,531.34 L416.22,531.34 Z" fill="#2b4f92"/>
<path d="M424.30,521.24 L426.00,524.24 L422.60,524.24 Z" fill="#2b4f92"/>
<path d="M435.70,515.56 L437.40,518.56 L434.00,518.56 Z" fill="#2b4f92"/>
<path d="M455.92,511.71 L457.62,514.71 L454.22,514.71 Z" fill="#2b4f92"/>
<path d="M491.90,504.61 L493.60,507.61 L490.20,507.61 Z" fill="#2b4f92"/>
<line x1="409.70" y1="481.70" x2="409.70" y2="588.40" stroke="#222" stroke-width="1.2"/>
<line x1="409.10" y1="585.60" x2="495.00" y2="585.60" stroke="#222" stroke-width="1.2"/>
<line x1="457.60" y1="564.60" x2="462.40" y2="564.60" stroke="#b3173a" stroke-width="1.0"/>
<circle cx="459.80" cy="564.60" r="1.6" fill="#b3173a"/>
<text x="465.02" y="566.70" font-size="7.3" fill="#262626" stroke="#262626" stroke-width="0.1" textLength="24.49" lengthAdjust="spacingAndGlyphs">Control</text>
<line x1="457.60" y1="575.80" x2="462.40" y2="575.80" stroke="#2b4f92" stroke-width="1.0"/>
<path d="M459.8,573.9 L461.5,576.9 L458.1,576.9 Z" fill="#2b4f92"/>
<text x="464.80" y="578.20" font-size="7.3" fill="#262626" stroke="#262626" stroke-width="0.1" textLength="27.27" lengthAdjust="spacingAndGlyphs">FT-4202</text>
<text x="426.81" y="611.10" font-size="9.0" fill="#262626" stroke="#262626" stroke-width="0.2" textLength="50.60" lengthAdjust="spacingAndGlyphs">Shear stress (Pa)</text>
<text transform="translate(382.60,563.70) rotate(-90)" x="-0.54" y="0" font-size="8.8" fill="#262626" stroke="#262626" stroke-width="0.32" textLength="60.64" lengthAdjust="spacingAndGlyphs">Elongation index (EI)</text>
<circle cx="416.12" cy="521.90" r="1.2" fill="#1a1a1a"/>
<circle cx="419.72" cy="521.90" r="1.2" fill="#1a1a1a"/>
<circle cx="420.70" cy="512.90" r="1.2" fill="#1a1a1a"/>
<circle cx="424.30" cy="512.90" r="1.2" fill="#1a1a1a"/>
<circle cx="427.90" cy="512.90" r="1.2" fill="#1a1a1a"/>
<circle cx="432.10" cy="507.10" r="1.2" fill="#1a1a1a"/>
<circle cx="435.70" cy="507.10" r="1.2" fill="#1a1a1a"/>
<circle cx="439.30" cy="507.10" r="1.2" fill="#1a1a1a"/>
<circle cx="452.32" cy="502.50" r="1.2" fill="#1a1a1a"/>
<circle cx="455.92" cy="502.50" r="1.2" fill="#1a1a1a"/>
<circle cx="459.52" cy="502.50" r="1.2" fill="#1a1a1a"/>
<circle cx="488.30" cy="495.60" r="1.2" fill="#1a1a1a"/>
<circle cx="491.90" cy="495.60" r="1.2" fill="#1a1a1a"/>
<circle cx="495.50" cy="495.60" r="1.2" fill="#1a1a1a"/>
<line x1="495.40" y1="504.60" x2="495.40" y2="526.60" stroke="#444" stroke-width="0.9"/>
<line x1="494.40" y1="504.60" x2="495.40" y2="504.60" stroke="#444" stroke-width="0.9"/>
<line x1="494.40" y1="526.60" x2="495.40" y2="526.60" stroke="#444" stroke-width="0.9"/>
<circle cx="499.70" cy="514.40" r="1.2" fill="#1a1a1a"/>
<circle cx="503.30" cy="514.40" r="1.2" fill="#1a1a1a"/>
<rect x="0.5" y="0.5" width="519" height="620" fill="none" stroke="#111" stroke-width="1.2"/>
</svg>
</body></html>
